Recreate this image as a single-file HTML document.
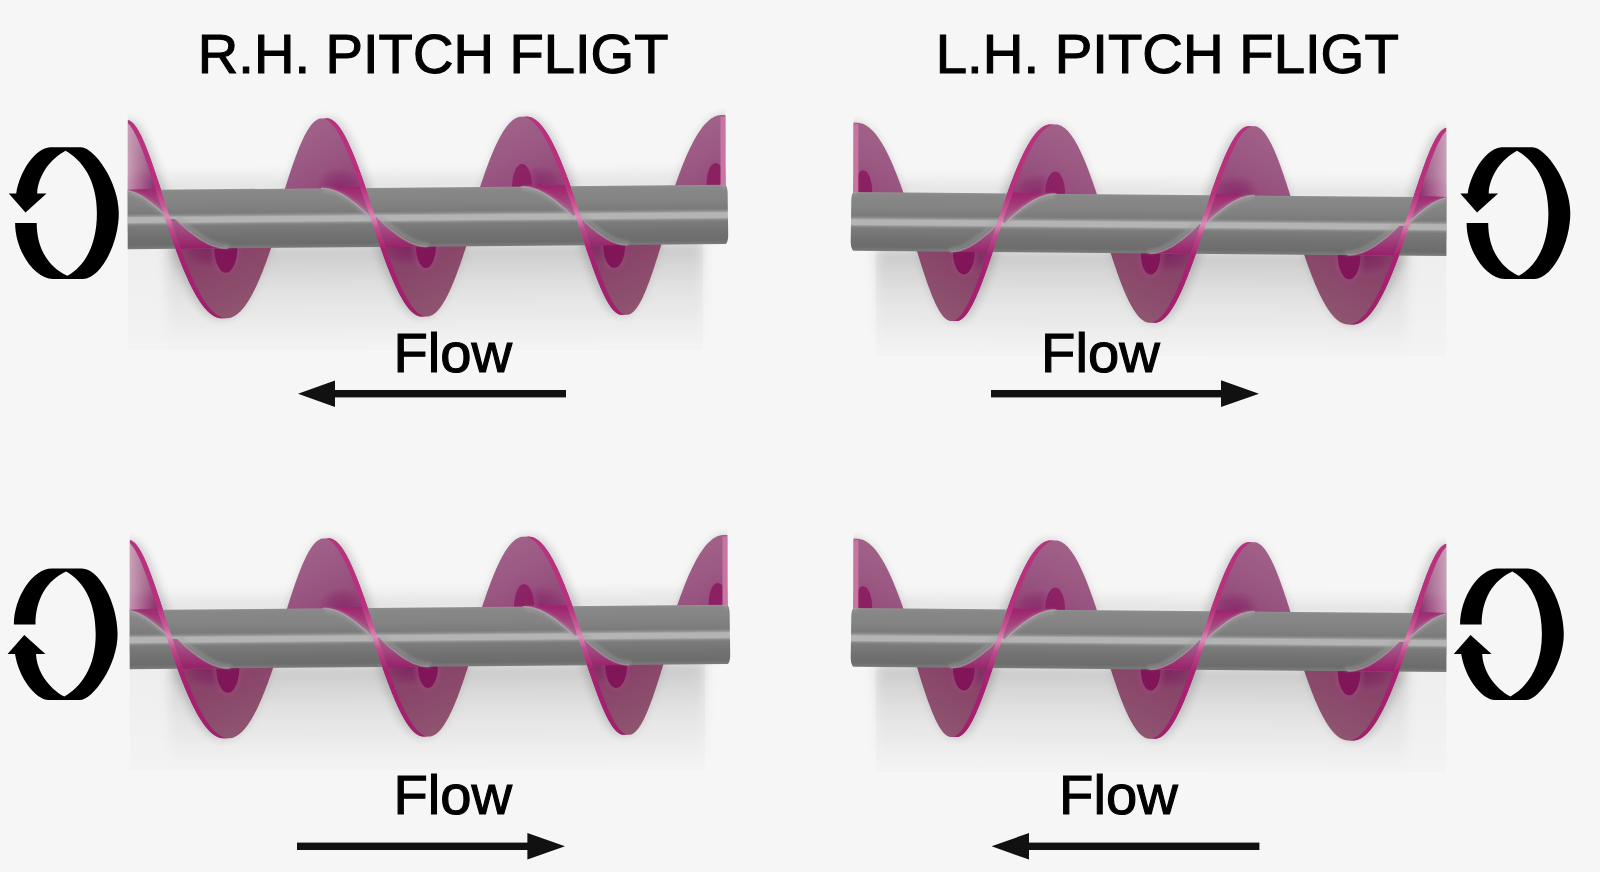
<!DOCTYPE html>
<html><head><meta charset="utf-8"><style>
html,body{margin:0;padding:0;background:#f6f6f6;}
svg{display:block;}
</style></head><body>
<svg width="1600" height="872" viewBox="0 0 1600 872">
<rect width="1600" height="872" fill="#f6f6f6"/>

<defs>
 <filter id="blur6" x="-20%" y="-50%" width="140%" height="200%"><feGaussianBlur stdDeviation="6"/></filter>
 <filter id="blur1" x="-50%" y="-50%" width="200%" height="200%"><feGaussianBlur stdDeviation="1.5"/></filter>
 <filter id="blur2" x="-50%" y="-50%" width="200%" height="200%"><feGaussianBlur stdDeviation="2.5"/></filter>
 <filter id="blur3" x="-10%" y="-30%" width="120%" height="160%"><feGaussianBlur stdDeviation="3"/></filter>
 <linearGradient id="shB" x1="0" y1="0" x2="0" y2="1">
  <stop offset="0" stop-color="#000" stop-opacity="0.17"/>
  <stop offset="0.15" stop-color="#000" stop-opacity="0.12"/>
  <stop offset="0.45" stop-color="#000" stop-opacity="0.06"/>
  <stop offset="1" stop-color="#000" stop-opacity="0"/>
 </linearGradient>
 <linearGradient id="panelB" x1="0" y1="0" x2="0" y2="1">
  <stop offset="0" stop-color="#000" stop-opacity="0.035"/>
  <stop offset="1" stop-color="#000" stop-opacity="0.012"/>
 </linearGradient>
 <linearGradient id="shA" x1="0" y1="0" x2="0" y2="1">
  <stop offset="0" stop-color="#000" stop-opacity="0"/>
  <stop offset="1" stop-color="#000" stop-opacity="0.09"/>
 </linearGradient>
 <filter id="blur05" x="-50%" y="-50%" width="200%" height="200%"><feGaussianBlur stdDeviation="0.7"/></filter>
 <filter id="blurS" x="-20%" y="-20%" width="140%" height="140%"><feGaussianBlur stdDeviation="5"/></filter>
 <linearGradient id="shaft" x1="0" y1="-29.6" x2="0" y2="29.6" gradientUnits="userSpaceOnUse">
  <stop offset="0" stop-color="#909090"/>
  <stop offset="0.04" stop-color="#888888"/>
  <stop offset="0.25" stop-color="#838383"/>
  <stop offset="0.40" stop-color="#7b7b7b"/>
  <stop offset="0.44" stop-color="#909090"/>
  <stop offset="0.47" stop-color="#b4b4b4"/>
  <stop offset="0.55" stop-color="#b4b4b4"/>
  <stop offset="0.585" stop-color="#8a8a8a"/>
  <stop offset="0.62" stop-color="#7b7b7b"/>
  <stop offset="0.80" stop-color="#717171"/>
  <stop offset="0.93" stop-color="#6c6c6c"/>
  <stop offset="1" stop-color="#7c7c7c"/>
 </linearGradient>
 <linearGradient id="lobeUp" x1="0.25" y1="0" x2="0.75" y2="1">
  <stop offset="0" stop-color="#a2648a"/>
  <stop offset="0.45" stop-color="#985480"/>
  <stop offset="0.8" stop-color="#903c74"/>
  <stop offset="1" stop-color="#8c2c6c"/>
 </linearGradient>
 <linearGradient id="lobeDn" x1="0.25" y1="0" x2="0.75" y2="1">
  <stop offset="0" stop-color="#842a62"/>
  <stop offset="0.3" stop-color="#884068"/>
  <stop offset="0.6" stop-color="#8a486a"/>
  <stop offset="1" stop-color="#905872"/>
 </linearGradient>
 <linearGradient id="wedgeUp" x1="0" y1="187.39827827117543" x2="0" y2="216.99827827117542" gradientUnits="userSpaceOnUse">
  <stop offset="0" stop-color="#a0246e"/>
  <stop offset="1" stop-color="#a86890"/>
 </linearGradient>
 <linearGradient id="wedgeDn" x1="0" y1="216.99827827117542" x2="0" y2="246.59827827117542" gradientUnits="userSpaceOnUse">
  <stop offset="0" stop-color="#a86890"/>
  <stop offset="1" stop-color="#98226a"/>
 </linearGradient>
 <linearGradient id="band" x1="0" y1="117.50829611564194" x2="0" y2="316.4882604267089" gradientUnits="userSpaceOnUse">
  <stop offset="0" stop-color="#b8327e"/>
  <stop offset="0.35" stop-color="#b8307e"/>
  <stop offset="0.45" stop-color="#cc5c98"/>
  <stop offset="0.5" stop-color="#dc8cb8"/>
  <stop offset="0.56" stop-color="#c04a8c"/>
  <stop offset="0.66" stop-color="#a82272"/>
  <stop offset="1" stop-color="#a0206c"/>
 </linearGradient>
 <linearGradient id="p0light" x1="127.7" y1="0" x2="153.7" y2="0" gradientUnits="userSpaceOnUse">
  <stop offset="0" stop-color="#e8d0dc" stop-opacity="0.6"/>
  <stop offset="0.5" stop-color="#e0c0d0" stop-opacity="0.35"/>
  <stop offset="1" stop-color="#e0c0d0" stop-opacity="0"/>
 </linearGradient>
 <path id="rot" d="M50,147.3 L81,147.3 C94,147.3 118.8,182 118.8,213.1 C118.8,245 100,278.9 83,278.9 L53,278.9 C34,278.9 15.1,250 15.1,222.9 L36.7,222.9 C36.7,248 48,267 67.4,275.8 C85,266 96.9,245 96.9,213.3 C97,180 82,160 65.5,150.8 C50,159 38,176 37.2,193.4 L46.6,193.4 L25.5,212.4 L8.8,193.4 L16.2,193.4 C20,170 36,148 50,147.3 Z"/>
 <clipPath id="scl"><rect x="127.7" y="0" width="604.3" height="440"/></clipPath>
 <clipPath id="bcl"><rect x="127.7" y="0" width="597.5999999999999" height="440"/></clipPath>
 <g id="screw" clip-path="url(#scl)">
<g clip-path="url(#bcl)">
<g fill="#505050" opacity="0.13" filter="url(#blurS)"><polygon points="77.05,232.08 77.94,229.31 78.82,226.53 79.70,223.75 80.57,220.96 81.44,218.17 82.29,215.39 83.15,212.60 83.99,209.82 84.82,207.05 85.65,204.29 86.48,201.55 87.30,198.81 88.11,196.10 88.91,193.40 89.71,190.72 90.50,188.06 91.29,185.43 92.07,182.82 92.84,180.24 93.61,177.70 94.38,175.18 95.14,172.70 95.89,170.25 96.64,167.85 97.38,165.48 98.12,163.16 98.86,160.88 99.59,158.64 100.32,156.45 101.04,154.31 101.76,152.23 102.47,150.19 103.18,148.21 103.89,146.28 104.60,144.42 105.30,142.61 106.00,140.86 106.70,139.17 107.39,137.55 108.09,135.99 108.78,134.49 109.47,133.07 110.15,131.71 110.84,130.42 111.52,129.21 112.21,128.06 112.89,126.99 113.57,126.00 114.26,125.07 114.94,124.23 115.62,123.46 116.30,122.77 116.98,122.15 117.67,121.62 118.35,121.16 119.03,120.79 119.72,120.49 120.40,120.28 121.09,120.15 126.06,120.10 126.75,120.05 127.45,120.08 128.14,120.20 128.84,120.39 129.54,120.67 130.25,121.03 130.96,121.47 131.67,121.99 132.38,122.59 133.10,123.28 133.81,124.04 134.54,124.89 135.27,125.81 136.00,126.81 136.73,127.90 137.47,129.05 138.21,130.29 138.96,131.60 139.71,132.99 140.47,134.45 141.23,135.98 142.00,137.59 142.77,139.26 143.55,141.00 144.33,142.81 145.12,144.69 145.91,146.63 146.71,148.64 147.51,150.70 148.32,152.83 149.14,155.01 149.96,157.25 150.79,159.54 151.62,161.88 152.46,164.28 153.30,166.72 154.15,169.21 155.01,171.74 155.87,174.32 156.74,176.93 157.62,179.58 158.50,182.27 159.39,184.99 160.28,187.74 161.18,190.51 162.08,193.32 162.99,196.14 163.91,198.99 164.84,201.85 165.76,204.73 166.70,207.62 167.64,210.52 168.59,213.43 169.54,216.34 170.50,219.26 171.46,222.18 172.43,225.09 173.40,228.00 174.38,230.90"/><polygon points="271.98,230.41 272.85,227.64 273.73,224.86 274.60,222.07 275.47,219.29 276.33,216.50 277.19,213.71 278.05,210.93 278.91,208.15 279.76,205.38 280.61,202.62 281.46,199.87 282.30,197.14 283.15,194.42 283.99,191.72 284.82,189.04 285.66,186.38 286.49,183.75 287.32,181.14 288.15,178.57 288.98,176.02 289.81,173.50 290.63,171.02 291.46,168.58 292.28,166.17 293.10,163.80 293.92,161.48 294.73,159.20 295.55,156.96 296.37,154.77 297.18,152.63 298.00,150.54 298.81,148.51 299.62,146.52 300.43,144.60 301.25,142.73 302.06,140.92 302.87,139.17 303.68,137.48 304.49,135.85 305.31,134.29 306.12,132.80 306.93,131.37 307.75,130.02 308.56,128.73 309.37,127.51 310.19,126.36 311.01,125.29 311.82,124.29 312.64,123.37 313.46,122.52 314.28,121.75 315.10,121.06 315.93,120.44 316.75,119.91 317.58,119.45 318.40,119.08 319.23,118.78 320.06,118.56 320.90,118.43 325.86,118.39 326.70,118.34 327.54,118.37 328.38,118.48 329.23,118.67 330.07,118.95 330.92,119.30 331.77,119.74 332.63,120.26 333.48,120.86 334.34,121.55 335.20,122.31 336.06,123.16 336.93,124.08 337.80,125.08 338.67,126.16 339.54,127.32 340.42,128.56 341.30,129.87 342.18,131.25 343.06,132.71 343.95,134.24 344.84,135.84 345.73,137.52 346.62,139.26 347.52,141.07 348.42,142.95 349.32,144.89 350.23,146.89 351.13,148.95 352.04,151.08 352.96,153.26 353.87,155.50 354.79,157.79 355.71,160.13 356.63,162.53 357.56,164.97 358.49,167.46 359.42,169.99 360.35,172.56 361.28,175.18 362.22,177.83 363.16,180.51 364.10,183.23 365.04,185.98 365.98,188.76 366.93,191.56 367.88,194.38 368.83,197.23 369.78,200.09 370.73,202.97 371.69,205.86 372.64,208.76 373.60,211.67 374.56,214.58 375.52,217.50 376.48,220.42 377.44,223.33 378.40,226.24 379.37,229.14"/><polygon points="466.91,228.74 467.77,225.97 468.63,223.19 469.50,220.40 470.36,217.61 471.22,214.83 472.09,212.04 472.96,209.26 473.83,206.48 474.70,203.71 475.57,200.95 476.44,198.20 477.31,195.47 478.19,192.75 479.06,190.05 479.94,187.37 480.82,184.71 481.70,182.08 482.58,179.47 483.47,176.89 484.35,174.34 485.24,171.83 486.13,169.34 487.02,166.90 487.92,164.49 488.81,162.12 489.71,159.80 490.61,157.51 491.51,155.28 492.42,153.09 493.32,150.95 494.23,148.86 495.15,146.82 496.06,144.84 496.98,142.91 497.90,141.04 498.82,139.23 499.74,137.48 500.67,135.79 501.60,134.16 502.53,132.60 503.46,131.11 504.40,129.68 505.34,128.32 506.28,127.03 507.22,125.81 508.17,124.66 509.12,123.59 510.07,122.59 511.03,121.67 511.98,120.82 512.94,120.05 513.90,119.35 514.87,118.74 515.84,118.20 516.80,117.74 517.78,117.36 518.75,117.07 519.72,116.85 520.70,116.72 525.67,116.67 526.65,116.62 527.64,116.65 528.62,116.76 529.61,116.95 530.60,117.22 531.60,117.58 532.59,118.02 533.59,118.54 534.59,119.14 535.59,119.82 536.59,120.58 537.59,121.43 538.60,122.35 539.60,123.35 540.61,124.43 541.62,125.59 542.62,126.82 543.63,128.13 544.64,129.51 545.65,130.97 546.66,132.50 547.68,134.10 548.69,135.78 549.70,137.52 550.71,139.33 551.72,141.20 552.73,143.14 553.75,145.14 554.76,147.21 555.77,149.33 556.78,151.51 557.79,153.75 558.80,156.04 559.80,158.38 560.81,160.77 561.81,163.22 562.82,165.70 563.82,168.23 564.82,170.81 565.82,173.42 566.82,176.07 567.81,178.76 568.81,181.47 569.80,184.22 570.79,187.00 571.78,189.80 572.76,192.62 573.74,195.47 574.72,198.33 575.70,201.21 576.67,204.10 577.64,207.00 578.61,209.91 579.58,212.82 580.54,215.74 581.50,218.66 582.45,221.57 583.40,224.48 584.35,227.38"/><polygon points="661.84,227.06 662.68,224.29 663.54,221.51 664.39,218.73 665.25,215.94 666.12,213.15 666.99,210.37 667.87,207.58 668.75,204.81 669.63,202.04 670.52,199.27 671.42,196.53 672.32,193.79 673.23,191.07 674.14,188.37 675.06,185.69 675.98,183.03 676.91,180.40 677.84,177.79 678.78,175.21 679.72,172.66 680.67,170.15 681.63,167.67 682.59,165.22 683.56,162.81 684.53,160.44 685.50,158.12 686.49,155.83 687.48,153.59 688.47,151.40 689.47,149.26 690.47,147.17 691.48,145.13 692.50,143.15 693.52,141.22 694.55,139.35 695.58,137.54 696.61,135.79 697.65,134.10 698.70,132.47 699.75,130.91 700.81,129.41 701.87,127.98 702.93,126.62 704.00,125.33 705.08,124.11 706.15,122.97 707.24,121.89 708.32,120.89 709.41,119.96 710.51,119.11 711.61,118.34 712.71,117.65 713.81,117.03 714.92,116.49 716.03,116.03 717.15,115.65 718.27,115.35 719.39,115.14 720.51,115.00 725.47,114.96 726.60,114.90 727.73,114.93 728.86,115.04 730.00,115.23 731.14,115.50 732.27,115.86 733.41,116.29 734.55,116.81 735.69,117.41 736.84,118.09 737.98,118.85 739.12,119.70 740.26,120.62 741.41,121.62 742.55,122.70 743.69,123.85 744.83,125.08 745.97,126.39 747.11,127.78 748.25,129.23 749.38,130.76 750.51,132.36 751.65,134.03 752.78,135.77 753.90,137.58 755.03,139.46 756.15,141.39 757.27,143.39 758.38,145.46 759.49,147.58 760.60,149.76 761.70,152.00 762.80,154.29 763.90,156.63 764.99,159.02 766.07,161.46 767.15,163.95 768.23,166.48 769.30,169.05 770.36,171.67 771.42,174.32 772.47,177.00 773.52,179.72 774.56,182.46 775.60,185.24 776.62,188.04 777.65,190.87 778.66,193.71 779.67,196.57 780.67,199.45 781.66,202.34 782.65,205.24 783.63,208.15 784.60,211.07 785.56,213.98 786.52,216.90 787.47,219.81 788.41,222.72 789.34,225.62"/><polygon points="161.26,206.58 162.19,209.48 163.14,212.38 164.09,215.30 165.04,218.21 166.00,221.13 166.97,224.04 167.94,226.95 168.92,229.86 169.90,232.75 170.89,235.64 171.88,238.50 172.88,241.35 173.88,244.19 174.89,246.99 175.90,249.78 176.92,252.54 177.94,255.26 178.96,257.96 179.99,260.62 181.03,263.25 182.06,265.83 183.10,268.38 184.15,270.88 185.19,273.34 186.24,275.75 187.29,278.11 188.35,280.42 189.41,282.67 190.47,284.87 191.53,287.01 192.60,289.10 193.67,291.12 194.74,293.08 195.81,294.97 196.88,296.80 197.95,298.57 199.03,300.26 200.10,301.89 201.18,303.44 202.26,304.92 203.34,306.33 204.41,307.67 205.49,308.93 206.57,310.11 207.65,311.21 208.73,312.24 209.81,313.19 210.88,314.06 211.96,314.84 213.04,315.55 214.11,316.18 215.18,316.73 216.26,317.19 217.33,317.57 218.40,317.87 219.46,318.09 220.53,318.23 221.59,318.29 222.65,318.26 227.62,318.22 228.67,318.11 229.73,317.92 230.78,317.65 231.83,317.30 232.87,316.86 233.91,316.35 234.95,315.76 235.99,315.09 237.02,314.35 238.06,313.52 239.08,312.62 240.11,311.65 241.13,310.60 242.15,309.48 243.16,308.28 244.17,307.01 245.18,305.68 246.18,304.27 247.18,302.80 248.18,301.26 249.17,299.65 250.16,297.99 251.15,296.25 252.13,294.46 253.10,292.61 254.08,290.70 255.05,288.74 256.01,286.72 256.97,284.65 257.93,282.52 258.88,280.35 259.83,278.13 260.78,275.86 261.72,273.55 262.66,271.19 263.59,268.80 264.52,266.36 265.45,263.89 266.37,261.39 267.29,258.85 268.20,256.28 269.11,253.68 270.02,251.06 270.92,248.41 271.82,245.74 272.72,243.04 273.61,240.33 274.50,237.60 275.39,234.86 276.27,232.10 277.15,229.33 278.02,226.56 278.90,223.77 279.77,220.99 280.63,218.20 281.50,215.41 282.36,212.63 283.21,209.85 284.07,207.07"/><polygon points="366.24,204.82 367.19,207.72 368.15,210.62 369.10,213.54 370.06,216.45 371.02,219.37 371.99,222.28 372.95,225.19 373.91,228.10 374.88,230.99 375.84,233.88 376.81,236.74 377.77,239.60 378.74,242.43 379.71,245.24 380.68,248.02 381.65,250.78 382.62,253.51 383.58,256.20 384.55,258.87 385.52,261.49 386.49,264.08 387.46,266.63 388.43,269.13 389.39,271.59 390.36,274.00 391.33,276.36 392.29,278.67 393.26,280.92 394.23,283.12 395.19,285.27 396.15,287.35 397.11,289.37 398.07,291.33 399.03,293.23 399.99,295.06 400.95,296.83 401.91,298.52 402.86,300.15 403.81,301.70 404.76,303.19 405.71,304.60 406.66,305.93 407.61,307.19 408.55,308.37 409.50,309.48 410.44,310.51 411.38,311.46 412.32,312.33 413.25,313.12 414.19,313.83 415.12,314.46 416.05,315.00 416.98,315.47 417.90,315.85 418.83,316.15 419.75,316.37 420.67,316.51 421.59,316.57 422.51,316.54 427.47,316.50 428.38,316.39 429.29,316.21 430.20,315.94 431.10,315.59 432.00,315.16 432.90,314.64 433.80,314.06 434.70,313.39 435.59,312.64 436.49,311.82 437.38,310.92 438.27,309.95 439.16,308.90 440.04,307.78 440.92,306.58 441.81,305.32 442.69,303.98 443.57,302.58 444.44,301.11 445.32,299.57 446.20,297.96 447.07,296.30 447.94,294.57 448.81,292.78 449.68,290.92 450.55,289.02 451.42,287.05 452.28,285.03 453.15,282.96 454.01,280.84 454.87,278.67 455.74,276.44 456.60,274.18 457.46,271.87 458.32,269.51 459.18,267.12 460.04,264.69 460.90,262.22 461.76,259.71 462.62,257.17 463.48,254.61 464.34,252.01 465.19,249.38 466.05,246.73 466.91,244.06 467.77,241.37 468.63,238.65 469.49,235.93 470.35,233.18 471.21,230.43 472.07,227.66 472.93,224.88 473.80,222.10 474.66,219.32 475.53,216.53 476.39,213.74 477.26,210.95 478.13,208.17 478.99,205.40"/><polygon points="571.22,203.06 572.19,205.96 573.16,208.86 574.12,211.78 575.09,214.69 576.05,217.61 577.00,220.52 577.96,223.44 578.91,226.34 579.85,229.23 580.79,232.12 581.73,234.99 582.67,237.84 583.60,240.67 584.53,243.48 585.45,246.26 586.38,249.02 587.29,251.75 588.21,254.45 589.11,257.11 590.02,259.74 590.92,262.33 591.82,264.87 592.71,267.38 593.60,269.83 594.48,272.24 595.36,274.61 596.24,276.92 597.11,279.17 597.98,281.37 598.85,283.52 599.71,285.60 600.56,287.63 601.41,289.59 602.26,291.49 603.11,293.32 603.95,295.08 604.78,296.78 605.62,298.41 606.45,299.96 607.27,301.45 608.09,302.86 608.91,304.20 609.73,305.46 610.54,306.64 611.35,307.75 612.15,308.78 612.95,309.73 613.75,310.60 614.55,311.39 615.34,312.10 616.13,312.73 616.92,313.28 617.70,313.75 618.48,314.13 619.26,314.43 620.04,314.66 620.82,314.80 621.59,314.85 622.36,314.83 627.33,314.79 628.09,314.68 628.85,314.49 629.62,314.22 630.38,313.88 631.14,313.45 631.90,312.94 632.65,312.35 633.41,311.68 634.16,310.94 634.92,310.12 635.67,309.22 636.43,308.25 637.18,307.20 637.94,306.08 638.69,304.89 639.44,303.62 640.20,302.29 640.95,300.88 641.71,299.41 642.46,297.88 643.22,296.27 643.98,294.61 644.74,292.88 645.50,291.09 646.26,289.24 647.02,287.33 647.79,285.37 648.55,283.35 649.32,281.28 650.09,279.16 650.87,276.98 651.64,274.76 652.42,272.50 653.20,270.19 653.99,267.83 654.77,265.44 655.56,263.01 656.35,260.54 657.15,258.03 657.95,255.50 658.75,252.93 659.56,250.33 660.37,247.71 661.18,245.06 662.00,242.39 662.82,239.69 663.65,236.98 664.48,234.25 665.31,231.51 666.15,228.75 667.00,225.99 667.85,223.21 668.70,220.43 669.56,217.64 670.42,214.86 671.29,212.07 672.16,209.28 673.04,206.50 673.92,203.72"/></g>
<g fill="#404040" opacity="0.16" filter="url(#blurS)" transform="translate(5,1)"><polygon points="77.05,232.08 77.94,229.31 78.82,226.53 79.70,223.75 80.57,220.96 81.44,218.17 82.29,215.39 83.15,212.60 83.99,209.82 84.82,207.05 85.65,204.29 86.48,201.55 87.30,198.81 88.11,196.10 88.91,193.40 89.71,190.72 90.50,188.06 91.29,185.43 92.07,182.82 92.84,180.24 93.61,177.70 94.38,175.18 95.14,172.70 95.89,170.25 96.64,167.85 97.38,165.48 98.12,163.16 98.86,160.88 99.59,158.64 100.32,156.45 101.04,154.31 101.76,152.23 102.47,150.19 103.18,148.21 103.89,146.28 104.60,144.42 105.30,142.61 106.00,140.86 106.70,139.17 107.39,137.55 108.09,135.99 108.78,134.49 109.47,133.07 110.15,131.71 110.84,130.42 111.52,129.21 112.21,128.06 112.89,126.99 113.57,126.00 114.26,125.07 114.94,124.23 115.62,123.46 116.30,122.77 116.98,122.15 117.67,121.62 118.35,121.16 119.03,120.79 119.72,120.49 120.40,120.28 121.09,120.15 126.06,120.10 126.75,120.05 127.45,120.08 128.14,120.20 128.84,120.39 129.54,120.67 130.25,121.03 130.96,121.47 131.67,121.99 132.38,122.59 133.10,123.28 133.81,124.04 134.54,124.89 135.27,125.81 136.00,126.81 136.73,127.90 137.47,129.05 138.21,130.29 138.96,131.60 139.71,132.99 140.47,134.45 141.23,135.98 142.00,137.59 142.77,139.26 143.55,141.00 144.33,142.81 145.12,144.69 145.91,146.63 146.71,148.64 147.51,150.70 148.32,152.83 149.14,155.01 149.96,157.25 150.79,159.54 151.62,161.88 152.46,164.28 153.30,166.72 154.15,169.21 155.01,171.74 155.87,174.32 156.74,176.93 157.62,179.58 158.50,182.27 159.39,184.99 160.28,187.74 161.18,190.51 162.08,193.32 162.99,196.14 163.91,198.99 164.84,201.85 165.76,204.73 166.70,207.62 167.64,210.52 168.59,213.43 169.54,216.34 170.50,219.26 171.46,222.18 172.43,225.09 173.40,228.00 174.38,230.90"/><polygon points="271.98,230.41 272.85,227.64 273.73,224.86 274.60,222.07 275.47,219.29 276.33,216.50 277.19,213.71 278.05,210.93 278.91,208.15 279.76,205.38 280.61,202.62 281.46,199.87 282.30,197.14 283.15,194.42 283.99,191.72 284.82,189.04 285.66,186.38 286.49,183.75 287.32,181.14 288.15,178.57 288.98,176.02 289.81,173.50 290.63,171.02 291.46,168.58 292.28,166.17 293.10,163.80 293.92,161.48 294.73,159.20 295.55,156.96 296.37,154.77 297.18,152.63 298.00,150.54 298.81,148.51 299.62,146.52 300.43,144.60 301.25,142.73 302.06,140.92 302.87,139.17 303.68,137.48 304.49,135.85 305.31,134.29 306.12,132.80 306.93,131.37 307.75,130.02 308.56,128.73 309.37,127.51 310.19,126.36 311.01,125.29 311.82,124.29 312.64,123.37 313.46,122.52 314.28,121.75 315.10,121.06 315.93,120.44 316.75,119.91 317.58,119.45 318.40,119.08 319.23,118.78 320.06,118.56 320.90,118.43 325.86,118.39 326.70,118.34 327.54,118.37 328.38,118.48 329.23,118.67 330.07,118.95 330.92,119.30 331.77,119.74 332.63,120.26 333.48,120.86 334.34,121.55 335.20,122.31 336.06,123.16 336.93,124.08 337.80,125.08 338.67,126.16 339.54,127.32 340.42,128.56 341.30,129.87 342.18,131.25 343.06,132.71 343.95,134.24 344.84,135.84 345.73,137.52 346.62,139.26 347.52,141.07 348.42,142.95 349.32,144.89 350.23,146.89 351.13,148.95 352.04,151.08 352.96,153.26 353.87,155.50 354.79,157.79 355.71,160.13 356.63,162.53 357.56,164.97 358.49,167.46 359.42,169.99 360.35,172.56 361.28,175.18 362.22,177.83 363.16,180.51 364.10,183.23 365.04,185.98 365.98,188.76 366.93,191.56 367.88,194.38 368.83,197.23 369.78,200.09 370.73,202.97 371.69,205.86 372.64,208.76 373.60,211.67 374.56,214.58 375.52,217.50 376.48,220.42 377.44,223.33 378.40,226.24 379.37,229.14"/><polygon points="466.91,228.74 467.77,225.97 468.63,223.19 469.50,220.40 470.36,217.61 471.22,214.83 472.09,212.04 472.96,209.26 473.83,206.48 474.70,203.71 475.57,200.95 476.44,198.20 477.31,195.47 478.19,192.75 479.06,190.05 479.94,187.37 480.82,184.71 481.70,182.08 482.58,179.47 483.47,176.89 484.35,174.34 485.24,171.83 486.13,169.34 487.02,166.90 487.92,164.49 488.81,162.12 489.71,159.80 490.61,157.51 491.51,155.28 492.42,153.09 493.32,150.95 494.23,148.86 495.15,146.82 496.06,144.84 496.98,142.91 497.90,141.04 498.82,139.23 499.74,137.48 500.67,135.79 501.60,134.16 502.53,132.60 503.46,131.11 504.40,129.68 505.34,128.32 506.28,127.03 507.22,125.81 508.17,124.66 509.12,123.59 510.07,122.59 511.03,121.67 511.98,120.82 512.94,120.05 513.90,119.35 514.87,118.74 515.84,118.20 516.80,117.74 517.78,117.36 518.75,117.07 519.72,116.85 520.70,116.72 525.67,116.67 526.65,116.62 527.64,116.65 528.62,116.76 529.61,116.95 530.60,117.22 531.60,117.58 532.59,118.02 533.59,118.54 534.59,119.14 535.59,119.82 536.59,120.58 537.59,121.43 538.60,122.35 539.60,123.35 540.61,124.43 541.62,125.59 542.62,126.82 543.63,128.13 544.64,129.51 545.65,130.97 546.66,132.50 547.68,134.10 548.69,135.78 549.70,137.52 550.71,139.33 551.72,141.20 552.73,143.14 553.75,145.14 554.76,147.21 555.77,149.33 556.78,151.51 557.79,153.75 558.80,156.04 559.80,158.38 560.81,160.77 561.81,163.22 562.82,165.70 563.82,168.23 564.82,170.81 565.82,173.42 566.82,176.07 567.81,178.76 568.81,181.47 569.80,184.22 570.79,187.00 571.78,189.80 572.76,192.62 573.74,195.47 574.72,198.33 575.70,201.21 576.67,204.10 577.64,207.00 578.61,209.91 579.58,212.82 580.54,215.74 581.50,218.66 582.45,221.57 583.40,224.48 584.35,227.38"/><polygon points="661.84,227.06 662.68,224.29 663.54,221.51 664.39,218.73 665.25,215.94 666.12,213.15 666.99,210.37 667.87,207.58 668.75,204.81 669.63,202.04 670.52,199.27 671.42,196.53 672.32,193.79 673.23,191.07 674.14,188.37 675.06,185.69 675.98,183.03 676.91,180.40 677.84,177.79 678.78,175.21 679.72,172.66 680.67,170.15 681.63,167.67 682.59,165.22 683.56,162.81 684.53,160.44 685.50,158.12 686.49,155.83 687.48,153.59 688.47,151.40 689.47,149.26 690.47,147.17 691.48,145.13 692.50,143.15 693.52,141.22 694.55,139.35 695.58,137.54 696.61,135.79 697.65,134.10 698.70,132.47 699.75,130.91 700.81,129.41 701.87,127.98 702.93,126.62 704.00,125.33 705.08,124.11 706.15,122.97 707.24,121.89 708.32,120.89 709.41,119.96 710.51,119.11 711.61,118.34 712.71,117.65 713.81,117.03 714.92,116.49 716.03,116.03 717.15,115.65 718.27,115.35 719.39,115.14 720.51,115.00 725.47,114.96 726.60,114.90 727.73,114.93 728.86,115.04 730.00,115.23 731.14,115.50 732.27,115.86 733.41,116.29 734.55,116.81 735.69,117.41 736.84,118.09 737.98,118.85 739.12,119.70 740.26,120.62 741.41,121.62 742.55,122.70 743.69,123.85 744.83,125.08 745.97,126.39 747.11,127.78 748.25,129.23 749.38,130.76 750.51,132.36 751.65,134.03 752.78,135.77 753.90,137.58 755.03,139.46 756.15,141.39 757.27,143.39 758.38,145.46 759.49,147.58 760.60,149.76 761.70,152.00 762.80,154.29 763.90,156.63 764.99,159.02 766.07,161.46 767.15,163.95 768.23,166.48 769.30,169.05 770.36,171.67 771.42,174.32 772.47,177.00 773.52,179.72 774.56,182.46 775.60,185.24 776.62,188.04 777.65,190.87 778.66,193.71 779.67,196.57 780.67,199.45 781.66,202.34 782.65,205.24 783.63,208.15 784.60,211.07 785.56,213.98 786.52,216.90 787.47,219.81 788.41,222.72 789.34,225.62"/></g>
<g fill="#404040" opacity="0.16" filter="url(#blurS)" transform="translate(-5,-1)"><polygon points="161.26,206.58 162.19,209.48 163.14,212.38 164.09,215.30 165.04,218.21 166.00,221.13 166.97,224.04 167.94,226.95 168.92,229.86 169.90,232.75 170.89,235.64 171.88,238.50 172.88,241.35 173.88,244.19 174.89,246.99 175.90,249.78 176.92,252.54 177.94,255.26 178.96,257.96 179.99,260.62 181.03,263.25 182.06,265.83 183.10,268.38 184.15,270.88 185.19,273.34 186.24,275.75 187.29,278.11 188.35,280.42 189.41,282.67 190.47,284.87 191.53,287.01 192.60,289.10 193.67,291.12 194.74,293.08 195.81,294.97 196.88,296.80 197.95,298.57 199.03,300.26 200.10,301.89 201.18,303.44 202.26,304.92 203.34,306.33 204.41,307.67 205.49,308.93 206.57,310.11 207.65,311.21 208.73,312.24 209.81,313.19 210.88,314.06 211.96,314.84 213.04,315.55 214.11,316.18 215.18,316.73 216.26,317.19 217.33,317.57 218.40,317.87 219.46,318.09 220.53,318.23 221.59,318.29 222.65,318.26 227.62,318.22 228.67,318.11 229.73,317.92 230.78,317.65 231.83,317.30 232.87,316.86 233.91,316.35 234.95,315.76 235.99,315.09 237.02,314.35 238.06,313.52 239.08,312.62 240.11,311.65 241.13,310.60 242.15,309.48 243.16,308.28 244.17,307.01 245.18,305.68 246.18,304.27 247.18,302.80 248.18,301.26 249.17,299.65 250.16,297.99 251.15,296.25 252.13,294.46 253.10,292.61 254.08,290.70 255.05,288.74 256.01,286.72 256.97,284.65 257.93,282.52 258.88,280.35 259.83,278.13 260.78,275.86 261.72,273.55 262.66,271.19 263.59,268.80 264.52,266.36 265.45,263.89 266.37,261.39 267.29,258.85 268.20,256.28 269.11,253.68 270.02,251.06 270.92,248.41 271.82,245.74 272.72,243.04 273.61,240.33 274.50,237.60 275.39,234.86 276.27,232.10 277.15,229.33 278.02,226.56 278.90,223.77 279.77,220.99 280.63,218.20 281.50,215.41 282.36,212.63 283.21,209.85 284.07,207.07"/><polygon points="366.24,204.82 367.19,207.72 368.15,210.62 369.10,213.54 370.06,216.45 371.02,219.37 371.99,222.28 372.95,225.19 373.91,228.10 374.88,230.99 375.84,233.88 376.81,236.74 377.77,239.60 378.74,242.43 379.71,245.24 380.68,248.02 381.65,250.78 382.62,253.51 383.58,256.20 384.55,258.87 385.52,261.49 386.49,264.08 387.46,266.63 388.43,269.13 389.39,271.59 390.36,274.00 391.33,276.36 392.29,278.67 393.26,280.92 394.23,283.12 395.19,285.27 396.15,287.35 397.11,289.37 398.07,291.33 399.03,293.23 399.99,295.06 400.95,296.83 401.91,298.52 402.86,300.15 403.81,301.70 404.76,303.19 405.71,304.60 406.66,305.93 407.61,307.19 408.55,308.37 409.50,309.48 410.44,310.51 411.38,311.46 412.32,312.33 413.25,313.12 414.19,313.83 415.12,314.46 416.05,315.00 416.98,315.47 417.90,315.85 418.83,316.15 419.75,316.37 420.67,316.51 421.59,316.57 422.51,316.54 427.47,316.50 428.38,316.39 429.29,316.21 430.20,315.94 431.10,315.59 432.00,315.16 432.90,314.64 433.80,314.06 434.70,313.39 435.59,312.64 436.49,311.82 437.38,310.92 438.27,309.95 439.16,308.90 440.04,307.78 440.92,306.58 441.81,305.32 442.69,303.98 443.57,302.58 444.44,301.11 445.32,299.57 446.20,297.96 447.07,296.30 447.94,294.57 448.81,292.78 449.68,290.92 450.55,289.02 451.42,287.05 452.28,285.03 453.15,282.96 454.01,280.84 454.87,278.67 455.74,276.44 456.60,274.18 457.46,271.87 458.32,269.51 459.18,267.12 460.04,264.69 460.90,262.22 461.76,259.71 462.62,257.17 463.48,254.61 464.34,252.01 465.19,249.38 466.05,246.73 466.91,244.06 467.77,241.37 468.63,238.65 469.49,235.93 470.35,233.18 471.21,230.43 472.07,227.66 472.93,224.88 473.80,222.10 474.66,219.32 475.53,216.53 476.39,213.74 477.26,210.95 478.13,208.17 478.99,205.40"/><polygon points="571.22,203.06 572.19,205.96 573.16,208.86 574.12,211.78 575.09,214.69 576.05,217.61 577.00,220.52 577.96,223.44 578.91,226.34 579.85,229.23 580.79,232.12 581.73,234.99 582.67,237.84 583.60,240.67 584.53,243.48 585.45,246.26 586.38,249.02 587.29,251.75 588.21,254.45 589.11,257.11 590.02,259.74 590.92,262.33 591.82,264.87 592.71,267.38 593.60,269.83 594.48,272.24 595.36,274.61 596.24,276.92 597.11,279.17 597.98,281.37 598.85,283.52 599.71,285.60 600.56,287.63 601.41,289.59 602.26,291.49 603.11,293.32 603.95,295.08 604.78,296.78 605.62,298.41 606.45,299.96 607.27,301.45 608.09,302.86 608.91,304.20 609.73,305.46 610.54,306.64 611.35,307.75 612.15,308.78 612.95,309.73 613.75,310.60 614.55,311.39 615.34,312.10 616.13,312.73 616.92,313.28 617.70,313.75 618.48,314.13 619.26,314.43 620.04,314.66 620.82,314.80 621.59,314.85 622.36,314.83 627.33,314.79 628.09,314.68 628.85,314.49 629.62,314.22 630.38,313.88 631.14,313.45 631.90,312.94 632.65,312.35 633.41,311.68 634.16,310.94 634.92,310.12 635.67,309.22 636.43,308.25 637.18,307.20 637.94,306.08 638.69,304.89 639.44,303.62 640.20,302.29 640.95,300.88 641.71,299.41 642.46,297.88 643.22,296.27 643.98,294.61 644.74,292.88 645.50,291.09 646.26,289.24 647.02,287.33 647.79,285.37 648.55,283.35 649.32,281.28 650.09,279.16 650.87,276.98 651.64,274.76 652.42,272.50 653.20,270.19 653.99,267.83 654.77,265.44 655.56,263.01 656.35,260.54 657.15,258.03 657.95,255.50 658.75,252.93 659.56,250.33 660.37,247.71 661.18,245.06 662.00,242.39 662.82,239.69 663.65,236.98 664.48,234.25 665.31,231.51 666.15,228.75 667.00,225.99 667.85,223.21 668.70,220.43 669.56,217.64 670.42,214.86 671.29,212.07 672.16,209.28 673.04,206.50 673.92,203.72"/></g>
</g>
<rect x="127.7" y="240" width="575.3" height="110" fill="url(#panelB)"/>
<g transform="translate(126.95,219.58) rotate(-0.4918)"><rect x="40" y="27.6" width="535.3" height="100" fill="url(#shB)" filter="url(#blur6)"/><rect x="6" y="-51.6" width="589.3" height="24" fill="url(#shA)" filter="url(#blur3)"/></g>
<g clip-path="url(#bcl)">
<polygon points="77.05,232.08 77.94,229.31 78.82,226.53 79.70,223.75 80.57,220.96 81.44,218.17 82.29,215.39 83.15,212.60 83.99,209.82 84.82,207.05 85.65,204.29 86.48,201.55 87.30,198.81 88.11,196.10 88.91,193.40 89.71,190.72 90.50,188.06 91.29,185.43 92.07,182.82 92.84,180.24 93.61,177.70 94.38,175.18 95.14,172.70 95.89,170.25 96.64,167.85 97.38,165.48 98.12,163.16 98.86,160.88 99.59,158.64 100.32,156.45 101.04,154.31 101.76,152.23 102.47,150.19 103.18,148.21 103.89,146.28 104.60,144.42 105.30,142.61 106.00,140.86 106.70,139.17 107.39,137.55 108.09,135.99 108.78,134.49 109.47,133.07 110.15,131.71 110.84,130.42 111.52,129.21 112.21,128.06 112.89,126.99 113.57,126.00 114.26,125.07 114.94,124.23 115.62,123.46 116.30,122.77 116.98,122.15 117.67,121.62 118.35,121.16 119.03,120.79 119.72,120.49 120.40,120.28 121.09,120.15 126.06,120.10 126.75,120.05 127.45,120.08 128.14,120.20 128.84,120.39 129.54,120.67 130.25,121.03 130.96,121.47 131.67,121.99 132.38,122.59 133.10,123.28 133.81,124.04 134.54,124.89 135.27,125.81 136.00,126.81 136.73,127.90 137.47,129.05 138.21,130.29 138.96,131.60 139.71,132.99 140.47,134.45 141.23,135.98 142.00,137.59 142.77,139.26 143.55,141.00 144.33,142.81 145.12,144.69 145.91,146.63 146.71,148.64 147.51,150.70 148.32,152.83 149.14,155.01 149.96,157.25 150.79,159.54 151.62,161.88 152.46,164.28 153.30,166.72 154.15,169.21 155.01,171.74 155.87,174.32 156.74,176.93 157.62,179.58 158.50,182.27 159.39,184.99 160.28,187.74 161.18,190.51 162.08,193.32 162.99,196.14 163.91,198.99 164.84,201.85 165.76,204.73 166.70,207.62 167.64,210.52 168.59,213.43 169.54,216.34 170.50,219.26 171.46,222.18 172.43,225.09 173.40,228.00 174.38,230.90" fill="url(#lobeUp)"/>
<radialGradient id="dku0" cx="0" cy="0" r="1" gradientUnits="userSpaceOnUse" gradientTransform="translate(140.1,189.0) scale(24,20)"><stop offset="0" stop-color="#842064" stop-opacity="0.65"/><stop offset="0.55" stop-color="#842064" stop-opacity="0.39"/><stop offset="1" stop-color="#842064" stop-opacity="0"/></radialGradient>
<polygon points="77.05,232.08 77.94,229.31 78.82,226.53 79.70,223.75 80.57,220.96 81.44,218.17 82.29,215.39 83.15,212.60 83.99,209.82 84.82,207.05 85.65,204.29 86.48,201.55 87.30,198.81 88.11,196.10 88.91,193.40 89.71,190.72 90.50,188.06 91.29,185.43 92.07,182.82 92.84,180.24 93.61,177.70 94.38,175.18 95.14,172.70 95.89,170.25 96.64,167.85 97.38,165.48 98.12,163.16 98.86,160.88 99.59,158.64 100.32,156.45 101.04,154.31 101.76,152.23 102.47,150.19 103.18,148.21 103.89,146.28 104.60,144.42 105.30,142.61 106.00,140.86 106.70,139.17 107.39,137.55 108.09,135.99 108.78,134.49 109.47,133.07 110.15,131.71 110.84,130.42 111.52,129.21 112.21,128.06 112.89,126.99 113.57,126.00 114.26,125.07 114.94,124.23 115.62,123.46 116.30,122.77 116.98,122.15 117.67,121.62 118.35,121.16 119.03,120.79 119.72,120.49 120.40,120.28 121.09,120.15 126.06,120.10 126.75,120.05 127.45,120.08 128.14,120.20 128.84,120.39 129.54,120.67 130.25,121.03 130.96,121.47 131.67,121.99 132.38,122.59 133.10,123.28 133.81,124.04 134.54,124.89 135.27,125.81 136.00,126.81 136.73,127.90 137.47,129.05 138.21,130.29 138.96,131.60 139.71,132.99 140.47,134.45 141.23,135.98 142.00,137.59 142.77,139.26 143.55,141.00 144.33,142.81 145.12,144.69 145.91,146.63 146.71,148.64 147.51,150.70 148.32,152.83 149.14,155.01 149.96,157.25 150.79,159.54 151.62,161.88 152.46,164.28 153.30,166.72 154.15,169.21 155.01,171.74 155.87,174.32 156.74,176.93 157.62,179.58 158.50,182.27 159.39,184.99 160.28,187.74 161.18,190.51 162.08,193.32 162.99,196.14 163.91,198.99 164.84,201.85 165.76,204.73 166.70,207.62 167.64,210.52 168.59,213.43 169.54,216.34 170.50,219.26 171.46,222.18 172.43,225.09 173.40,228.00 174.38,230.90" fill="url(#dku0)"/>
<polygon points="77.05,232.08 77.94,229.31 78.82,226.53 79.70,223.75 80.57,220.96 81.44,218.17 82.29,215.39 83.15,212.60 83.99,209.82 84.82,207.05 85.65,204.29 86.48,201.55 87.30,198.81 88.11,196.10 88.91,193.40 89.71,190.72 90.50,188.06 91.29,185.43 92.07,182.82 92.84,180.24 93.61,177.70 94.38,175.18 95.14,172.70 95.89,170.25 96.64,167.85 97.38,165.48 98.12,163.16 98.86,160.88 99.59,158.64 100.32,156.45 101.04,154.31 101.76,152.23 102.47,150.19 103.18,148.21 103.89,146.28 104.60,144.42 105.30,142.61 106.00,140.86 106.70,139.17 107.39,137.55 108.09,135.99 108.78,134.49 109.47,133.07 110.15,131.71 110.84,130.42 111.52,129.21 112.21,128.06 112.89,126.99 113.57,126.00 114.26,125.07 114.94,124.23 115.62,123.46 116.30,122.77 116.98,122.15 117.67,121.62 118.35,121.16 119.03,120.79 119.72,120.49 120.40,120.28 121.09,120.15 126.06,120.10 126.75,120.05 127.45,120.08 128.14,120.20 128.84,120.39 129.54,120.67 130.25,121.03 130.96,121.47 131.67,121.99 132.38,122.59 133.10,123.28 133.81,124.04 134.54,124.89 135.27,125.81 136.00,126.81 136.73,127.90 137.47,129.05 138.21,130.29 138.96,131.60 139.71,132.99 140.47,134.45 141.23,135.98 142.00,137.59 142.77,139.26 143.55,141.00 144.33,142.81 145.12,144.69 145.91,146.63 146.71,148.64 147.51,150.70 148.32,152.83 149.14,155.01 149.96,157.25 150.79,159.54 151.62,161.88 152.46,164.28 153.30,166.72 154.15,169.21 155.01,171.74 155.87,174.32 156.74,176.93 157.62,179.58 158.50,182.27 159.39,184.99 160.28,187.74 161.18,190.51 162.08,193.32 162.99,196.14 163.91,198.99 164.84,201.85 165.76,204.73 166.70,207.62 167.64,210.52 168.59,213.43 169.54,216.34 170.50,219.26 171.46,222.18 172.43,225.09 173.40,228.00 174.38,230.90" fill="url(#p0light)"/>
<polygon points="161.26,206.58 162.19,209.48 163.14,212.38 164.09,215.30 165.04,218.21 166.00,221.13 166.97,224.04 167.94,226.95 168.92,229.86 169.90,232.75 170.89,235.64 171.88,238.50 172.88,241.35 173.88,244.19 174.89,246.99 175.90,249.78 176.92,252.54 177.94,255.26 178.96,257.96 179.99,260.62 181.03,263.25 182.06,265.83 183.10,268.38 184.15,270.88 185.19,273.34 186.24,275.75 187.29,278.11 188.35,280.42 189.41,282.67 190.47,284.87 191.53,287.01 192.60,289.10 193.67,291.12 194.74,293.08 195.81,294.97 196.88,296.80 197.95,298.57 199.03,300.26 200.10,301.89 201.18,303.44 202.26,304.92 203.34,306.33 204.41,307.67 205.49,308.93 206.57,310.11 207.65,311.21 208.73,312.24 209.81,313.19 210.88,314.06 211.96,314.84 213.04,315.55 214.11,316.18 215.18,316.73 216.26,317.19 217.33,317.57 218.40,317.87 219.46,318.09 220.53,318.23 221.59,318.29 222.65,318.26 227.62,318.22 228.67,318.11 229.73,317.92 230.78,317.65 231.83,317.30 232.87,316.86 233.91,316.35 234.95,315.76 235.99,315.09 237.02,314.35 238.06,313.52 239.08,312.62 240.11,311.65 241.13,310.60 242.15,309.48 243.16,308.28 244.17,307.01 245.18,305.68 246.18,304.27 247.18,302.80 248.18,301.26 249.17,299.65 250.16,297.99 251.15,296.25 252.13,294.46 253.10,292.61 254.08,290.70 255.05,288.74 256.01,286.72 256.97,284.65 257.93,282.52 258.88,280.35 259.83,278.13 260.78,275.86 261.72,273.55 262.66,271.19 263.59,268.80 264.52,266.36 265.45,263.89 266.37,261.39 267.29,258.85 268.20,256.28 269.11,253.68 270.02,251.06 270.92,248.41 271.82,245.74 272.72,243.04 273.61,240.33 274.50,237.60 275.39,234.86 276.27,232.10 277.15,229.33 278.02,226.56 278.90,223.77 279.77,220.99 280.63,218.20 281.50,215.41 282.36,212.63 283.21,209.85 284.07,207.07" fill="url(#lobeDn)"/>
<radialGradient id="dkl0" cx="0" cy="0" r="1" gradientUnits="userSpaceOnUse" gradientTransform="translate(207.6,249.3) scale(26,19)"><stop offset="0" stop-color="#7c2260" stop-opacity="0.8"/><stop offset="0.55" stop-color="#7c2260" stop-opacity="0.48"/><stop offset="1" stop-color="#7c2260" stop-opacity="0"/></radialGradient>
<polygon points="161.26,206.58 162.19,209.48 163.14,212.38 164.09,215.30 165.04,218.21 166.00,221.13 166.97,224.04 167.94,226.95 168.92,229.86 169.90,232.75 170.89,235.64 171.88,238.50 172.88,241.35 173.88,244.19 174.89,246.99 175.90,249.78 176.92,252.54 177.94,255.26 178.96,257.96 179.99,260.62 181.03,263.25 182.06,265.83 183.10,268.38 184.15,270.88 185.19,273.34 186.24,275.75 187.29,278.11 188.35,280.42 189.41,282.67 190.47,284.87 191.53,287.01 192.60,289.10 193.67,291.12 194.74,293.08 195.81,294.97 196.88,296.80 197.95,298.57 199.03,300.26 200.10,301.89 201.18,303.44 202.26,304.92 203.34,306.33 204.41,307.67 205.49,308.93 206.57,310.11 207.65,311.21 208.73,312.24 209.81,313.19 210.88,314.06 211.96,314.84 213.04,315.55 214.11,316.18 215.18,316.73 216.26,317.19 217.33,317.57 218.40,317.87 219.46,318.09 220.53,318.23 221.59,318.29 222.65,318.26 227.62,318.22 228.67,318.11 229.73,317.92 230.78,317.65 231.83,317.30 232.87,316.86 233.91,316.35 234.95,315.76 235.99,315.09 237.02,314.35 238.06,313.52 239.08,312.62 240.11,311.65 241.13,310.60 242.15,309.48 243.16,308.28 244.17,307.01 245.18,305.68 246.18,304.27 247.18,302.80 248.18,301.26 249.17,299.65 250.16,297.99 251.15,296.25 252.13,294.46 253.10,292.61 254.08,290.70 255.05,288.74 256.01,286.72 256.97,284.65 257.93,282.52 258.88,280.35 259.83,278.13 260.78,275.86 261.72,273.55 262.66,271.19 263.59,268.80 264.52,266.36 265.45,263.89 266.37,261.39 267.29,258.85 268.20,256.28 269.11,253.68 270.02,251.06 270.92,248.41 271.82,245.74 272.72,243.04 273.61,240.33 274.50,237.60 275.39,234.86 276.27,232.10 277.15,229.33 278.02,226.56 278.90,223.77 279.77,220.99 280.63,218.20 281.50,215.41 282.36,212.63 283.21,209.85 284.07,207.07" fill="url(#dkl0)"/>
<ellipse cx="225.8" cy="248.3" rx="14.0" ry="27.0" fill="#9c4c7e" opacity="0.60" filter="url(#blur2)"/>
<ellipse cx="225.8" cy="248.3" rx="11.5" ry="24.5" fill="#801858" opacity="1.0" filter="url(#blur05)"/>
<polygon points="271.98,230.41 272.85,227.64 273.73,224.86 274.60,222.07 275.47,219.29 276.33,216.50 277.19,213.71 278.05,210.93 278.91,208.15 279.76,205.38 280.61,202.62 281.46,199.87 282.30,197.14 283.15,194.42 283.99,191.72 284.82,189.04 285.66,186.38 286.49,183.75 287.32,181.14 288.15,178.57 288.98,176.02 289.81,173.50 290.63,171.02 291.46,168.58 292.28,166.17 293.10,163.80 293.92,161.48 294.73,159.20 295.55,156.96 296.37,154.77 297.18,152.63 298.00,150.54 298.81,148.51 299.62,146.52 300.43,144.60 301.25,142.73 302.06,140.92 302.87,139.17 303.68,137.48 304.49,135.85 305.31,134.29 306.12,132.80 306.93,131.37 307.75,130.02 308.56,128.73 309.37,127.51 310.19,126.36 311.01,125.29 311.82,124.29 312.64,123.37 313.46,122.52 314.28,121.75 315.10,121.06 315.93,120.44 316.75,119.91 317.58,119.45 318.40,119.08 319.23,118.78 320.06,118.56 320.90,118.43 325.86,118.39 326.70,118.34 327.54,118.37 328.38,118.48 329.23,118.67 330.07,118.95 330.92,119.30 331.77,119.74 332.63,120.26 333.48,120.86 334.34,121.55 335.20,122.31 336.06,123.16 336.93,124.08 337.80,125.08 338.67,126.16 339.54,127.32 340.42,128.56 341.30,129.87 342.18,131.25 343.06,132.71 343.95,134.24 344.84,135.84 345.73,137.52 346.62,139.26 347.52,141.07 348.42,142.95 349.32,144.89 350.23,146.89 351.13,148.95 352.04,151.08 352.96,153.26 353.87,155.50 354.79,157.79 355.71,160.13 356.63,162.53 357.56,164.97 358.49,167.46 359.42,169.99 360.35,172.56 361.28,175.18 362.22,177.83 363.16,180.51 364.10,183.23 365.04,185.98 365.98,188.76 366.93,191.56 367.88,194.38 368.83,197.23 369.78,200.09 370.73,202.97 371.69,205.86 372.64,208.76 373.60,211.67 374.56,214.58 375.52,217.50 376.48,220.42 377.44,223.33 378.40,226.24 379.37,229.14" fill="url(#lobeUp)"/>
<radialGradient id="dku1" cx="0" cy="0" r="1" gradientUnits="userSpaceOnUse" gradientTransform="translate(340.0,187.3) scale(24,20)"><stop offset="0" stop-color="#842064" stop-opacity="0.65"/><stop offset="0.55" stop-color="#842064" stop-opacity="0.39"/><stop offset="1" stop-color="#842064" stop-opacity="0"/></radialGradient>
<polygon points="271.98,230.41 272.85,227.64 273.73,224.86 274.60,222.07 275.47,219.29 276.33,216.50 277.19,213.71 278.05,210.93 278.91,208.15 279.76,205.38 280.61,202.62 281.46,199.87 282.30,197.14 283.15,194.42 283.99,191.72 284.82,189.04 285.66,186.38 286.49,183.75 287.32,181.14 288.15,178.57 288.98,176.02 289.81,173.50 290.63,171.02 291.46,168.58 292.28,166.17 293.10,163.80 293.92,161.48 294.73,159.20 295.55,156.96 296.37,154.77 297.18,152.63 298.00,150.54 298.81,148.51 299.62,146.52 300.43,144.60 301.25,142.73 302.06,140.92 302.87,139.17 303.68,137.48 304.49,135.85 305.31,134.29 306.12,132.80 306.93,131.37 307.75,130.02 308.56,128.73 309.37,127.51 310.19,126.36 311.01,125.29 311.82,124.29 312.64,123.37 313.46,122.52 314.28,121.75 315.10,121.06 315.93,120.44 316.75,119.91 317.58,119.45 318.40,119.08 319.23,118.78 320.06,118.56 320.90,118.43 325.86,118.39 326.70,118.34 327.54,118.37 328.38,118.48 329.23,118.67 330.07,118.95 330.92,119.30 331.77,119.74 332.63,120.26 333.48,120.86 334.34,121.55 335.20,122.31 336.06,123.16 336.93,124.08 337.80,125.08 338.67,126.16 339.54,127.32 340.42,128.56 341.30,129.87 342.18,131.25 343.06,132.71 343.95,134.24 344.84,135.84 345.73,137.52 346.62,139.26 347.52,141.07 348.42,142.95 349.32,144.89 350.23,146.89 351.13,148.95 352.04,151.08 352.96,153.26 353.87,155.50 354.79,157.79 355.71,160.13 356.63,162.53 357.56,164.97 358.49,167.46 359.42,169.99 360.35,172.56 361.28,175.18 362.22,177.83 363.16,180.51 364.10,183.23 365.04,185.98 365.98,188.76 366.93,191.56 367.88,194.38 368.83,197.23 369.78,200.09 370.73,202.97 371.69,205.86 372.64,208.76 373.60,211.67 374.56,214.58 375.52,217.50 376.48,220.42 377.44,223.33 378.40,226.24 379.37,229.14" fill="url(#dku1)"/>
<polygon points="366.24,204.82 367.19,207.72 368.15,210.62 369.10,213.54 370.06,216.45 371.02,219.37 371.99,222.28 372.95,225.19 373.91,228.10 374.88,230.99 375.84,233.88 376.81,236.74 377.77,239.60 378.74,242.43 379.71,245.24 380.68,248.02 381.65,250.78 382.62,253.51 383.58,256.20 384.55,258.87 385.52,261.49 386.49,264.08 387.46,266.63 388.43,269.13 389.39,271.59 390.36,274.00 391.33,276.36 392.29,278.67 393.26,280.92 394.23,283.12 395.19,285.27 396.15,287.35 397.11,289.37 398.07,291.33 399.03,293.23 399.99,295.06 400.95,296.83 401.91,298.52 402.86,300.15 403.81,301.70 404.76,303.19 405.71,304.60 406.66,305.93 407.61,307.19 408.55,308.37 409.50,309.48 410.44,310.51 411.38,311.46 412.32,312.33 413.25,313.12 414.19,313.83 415.12,314.46 416.05,315.00 416.98,315.47 417.90,315.85 418.83,316.15 419.75,316.37 420.67,316.51 421.59,316.57 422.51,316.54 427.47,316.50 428.38,316.39 429.29,316.21 430.20,315.94 431.10,315.59 432.00,315.16 432.90,314.64 433.80,314.06 434.70,313.39 435.59,312.64 436.49,311.82 437.38,310.92 438.27,309.95 439.16,308.90 440.04,307.78 440.92,306.58 441.81,305.32 442.69,303.98 443.57,302.58 444.44,301.11 445.32,299.57 446.20,297.96 447.07,296.30 447.94,294.57 448.81,292.78 449.68,290.92 450.55,289.02 451.42,287.05 452.28,285.03 453.15,282.96 454.01,280.84 454.87,278.67 455.74,276.44 456.60,274.18 457.46,271.87 458.32,269.51 459.18,267.12 460.04,264.69 460.90,262.22 461.76,259.71 462.62,257.17 463.48,254.61 464.34,252.01 465.19,249.38 466.05,246.73 466.91,244.06 467.77,241.37 468.63,238.65 469.49,235.93 470.35,233.18 471.21,230.43 472.07,227.66 472.93,224.88 473.80,222.10 474.66,219.32 475.53,216.53 476.39,213.74 477.26,210.95 478.13,208.17 478.99,205.40" fill="url(#lobeDn)"/>
<radialGradient id="dkl1" cx="0" cy="0" r="1" gradientUnits="userSpaceOnUse" gradientTransform="translate(407.4,247.6) scale(26,19)"><stop offset="0" stop-color="#7c2260" stop-opacity="0.8"/><stop offset="0.55" stop-color="#7c2260" stop-opacity="0.48"/><stop offset="1" stop-color="#7c2260" stop-opacity="0"/></radialGradient>
<polygon points="366.24,204.82 367.19,207.72 368.15,210.62 369.10,213.54 370.06,216.45 371.02,219.37 371.99,222.28 372.95,225.19 373.91,228.10 374.88,230.99 375.84,233.88 376.81,236.74 377.77,239.60 378.74,242.43 379.71,245.24 380.68,248.02 381.65,250.78 382.62,253.51 383.58,256.20 384.55,258.87 385.52,261.49 386.49,264.08 387.46,266.63 388.43,269.13 389.39,271.59 390.36,274.00 391.33,276.36 392.29,278.67 393.26,280.92 394.23,283.12 395.19,285.27 396.15,287.35 397.11,289.37 398.07,291.33 399.03,293.23 399.99,295.06 400.95,296.83 401.91,298.52 402.86,300.15 403.81,301.70 404.76,303.19 405.71,304.60 406.66,305.93 407.61,307.19 408.55,308.37 409.50,309.48 410.44,310.51 411.38,311.46 412.32,312.33 413.25,313.12 414.19,313.83 415.12,314.46 416.05,315.00 416.98,315.47 417.90,315.85 418.83,316.15 419.75,316.37 420.67,316.51 421.59,316.57 422.51,316.54 427.47,316.50 428.38,316.39 429.29,316.21 430.20,315.94 431.10,315.59 432.00,315.16 432.90,314.64 433.80,314.06 434.70,313.39 435.59,312.64 436.49,311.82 437.38,310.92 438.27,309.95 439.16,308.90 440.04,307.78 440.92,306.58 441.81,305.32 442.69,303.98 443.57,302.58 444.44,301.11 445.32,299.57 446.20,297.96 447.07,296.30 447.94,294.57 448.81,292.78 449.68,290.92 450.55,289.02 451.42,287.05 452.28,285.03 453.15,282.96 454.01,280.84 454.87,278.67 455.74,276.44 456.60,274.18 457.46,271.87 458.32,269.51 459.18,267.12 460.04,264.69 460.90,262.22 461.76,259.71 462.62,257.17 463.48,254.61 464.34,252.01 465.19,249.38 466.05,246.73 466.91,244.06 467.77,241.37 468.63,238.65 469.49,235.93 470.35,233.18 471.21,230.43 472.07,227.66 472.93,224.88 473.80,222.10 474.66,219.32 475.53,216.53 476.39,213.74 477.26,210.95 478.13,208.17 478.99,205.40" fill="url(#dkl1)"/>
<ellipse cx="425.9" cy="246.6" rx="12.5" ry="24.0" fill="#9c4c7e" opacity="0.60" filter="url(#blur2)"/>
<ellipse cx="425.9" cy="246.6" rx="10" ry="21.5" fill="#801858" opacity="1.0" filter="url(#blur05)"/>
<polygon points="466.91,228.74 467.77,225.97 468.63,223.19 469.50,220.40 470.36,217.61 471.22,214.83 472.09,212.04 472.96,209.26 473.83,206.48 474.70,203.71 475.57,200.95 476.44,198.20 477.31,195.47 478.19,192.75 479.06,190.05 479.94,187.37 480.82,184.71 481.70,182.08 482.58,179.47 483.47,176.89 484.35,174.34 485.24,171.83 486.13,169.34 487.02,166.90 487.92,164.49 488.81,162.12 489.71,159.80 490.61,157.51 491.51,155.28 492.42,153.09 493.32,150.95 494.23,148.86 495.15,146.82 496.06,144.84 496.98,142.91 497.90,141.04 498.82,139.23 499.74,137.48 500.67,135.79 501.60,134.16 502.53,132.60 503.46,131.11 504.40,129.68 505.34,128.32 506.28,127.03 507.22,125.81 508.17,124.66 509.12,123.59 510.07,122.59 511.03,121.67 511.98,120.82 512.94,120.05 513.90,119.35 514.87,118.74 515.84,118.20 516.80,117.74 517.78,117.36 518.75,117.07 519.72,116.85 520.70,116.72 525.67,116.67 526.65,116.62 527.64,116.65 528.62,116.76 529.61,116.95 530.60,117.22 531.60,117.58 532.59,118.02 533.59,118.54 534.59,119.14 535.59,119.82 536.59,120.58 537.59,121.43 538.60,122.35 539.60,123.35 540.61,124.43 541.62,125.59 542.62,126.82 543.63,128.13 544.64,129.51 545.65,130.97 546.66,132.50 547.68,134.10 548.69,135.78 549.70,137.52 550.71,139.33 551.72,141.20 552.73,143.14 553.75,145.14 554.76,147.21 555.77,149.33 556.78,151.51 557.79,153.75 558.80,156.04 559.80,158.38 560.81,160.77 561.81,163.22 562.82,165.70 563.82,168.23 564.82,170.81 565.82,173.42 566.82,176.07 567.81,178.76 568.81,181.47 569.80,184.22 570.79,187.00 571.78,189.80 572.76,192.62 573.74,195.47 574.72,198.33 575.70,201.21 576.67,204.10 577.64,207.00 578.61,209.91 579.58,212.82 580.54,215.74 581.50,218.66 582.45,221.57 583.40,224.48 584.35,227.38" fill="url(#lobeUp)"/>
<radialGradient id="dku2" cx="0" cy="0" r="1" gradientUnits="userSpaceOnUse" gradientTransform="translate(539.8,185.6) scale(24,20)"><stop offset="0" stop-color="#842064" stop-opacity="0.65"/><stop offset="0.55" stop-color="#842064" stop-opacity="0.39"/><stop offset="1" stop-color="#842064" stop-opacity="0"/></radialGradient>
<polygon points="466.91,228.74 467.77,225.97 468.63,223.19 469.50,220.40 470.36,217.61 471.22,214.83 472.09,212.04 472.96,209.26 473.83,206.48 474.70,203.71 475.57,200.95 476.44,198.20 477.31,195.47 478.19,192.75 479.06,190.05 479.94,187.37 480.82,184.71 481.70,182.08 482.58,179.47 483.47,176.89 484.35,174.34 485.24,171.83 486.13,169.34 487.02,166.90 487.92,164.49 488.81,162.12 489.71,159.80 490.61,157.51 491.51,155.28 492.42,153.09 493.32,150.95 494.23,148.86 495.15,146.82 496.06,144.84 496.98,142.91 497.90,141.04 498.82,139.23 499.74,137.48 500.67,135.79 501.60,134.16 502.53,132.60 503.46,131.11 504.40,129.68 505.34,128.32 506.28,127.03 507.22,125.81 508.17,124.66 509.12,123.59 510.07,122.59 511.03,121.67 511.98,120.82 512.94,120.05 513.90,119.35 514.87,118.74 515.84,118.20 516.80,117.74 517.78,117.36 518.75,117.07 519.72,116.85 520.70,116.72 525.67,116.67 526.65,116.62 527.64,116.65 528.62,116.76 529.61,116.95 530.60,117.22 531.60,117.58 532.59,118.02 533.59,118.54 534.59,119.14 535.59,119.82 536.59,120.58 537.59,121.43 538.60,122.35 539.60,123.35 540.61,124.43 541.62,125.59 542.62,126.82 543.63,128.13 544.64,129.51 545.65,130.97 546.66,132.50 547.68,134.10 548.69,135.78 549.70,137.52 550.71,139.33 551.72,141.20 552.73,143.14 553.75,145.14 554.76,147.21 555.77,149.33 556.78,151.51 557.79,153.75 558.80,156.04 559.80,158.38 560.81,160.77 561.81,163.22 562.82,165.70 563.82,168.23 564.82,170.81 565.82,173.42 566.82,176.07 567.81,178.76 568.81,181.47 569.80,184.22 570.79,187.00 571.78,189.80 572.76,192.62 573.74,195.47 574.72,198.33 575.70,201.21 576.67,204.10 577.64,207.00 578.61,209.91 579.58,212.82 580.54,215.74 581.50,218.66 582.45,221.57 583.40,224.48 584.35,227.38" fill="url(#dku2)"/>
<ellipse cx="522.1" cy="186.6" rx="12.5" ry="25.0" fill="#a04c82" opacity="0.51" filter="url(#blur2)"/>
<ellipse cx="522.1" cy="186.6" rx="10" ry="22.5" fill="#8a1a60" opacity="0.85" filter="url(#blur05)"/>
<polygon points="571.22,203.06 572.19,205.96 573.16,208.86 574.12,211.78 575.09,214.69 576.05,217.61 577.00,220.52 577.96,223.44 578.91,226.34 579.85,229.23 580.79,232.12 581.73,234.99 582.67,237.84 583.60,240.67 584.53,243.48 585.45,246.26 586.38,249.02 587.29,251.75 588.21,254.45 589.11,257.11 590.02,259.74 590.92,262.33 591.82,264.87 592.71,267.38 593.60,269.83 594.48,272.24 595.36,274.61 596.24,276.92 597.11,279.17 597.98,281.37 598.85,283.52 599.71,285.60 600.56,287.63 601.41,289.59 602.26,291.49 603.11,293.32 603.95,295.08 604.78,296.78 605.62,298.41 606.45,299.96 607.27,301.45 608.09,302.86 608.91,304.20 609.73,305.46 610.54,306.64 611.35,307.75 612.15,308.78 612.95,309.73 613.75,310.60 614.55,311.39 615.34,312.10 616.13,312.73 616.92,313.28 617.70,313.75 618.48,314.13 619.26,314.43 620.04,314.66 620.82,314.80 621.59,314.85 622.36,314.83 627.33,314.79 628.09,314.68 628.85,314.49 629.62,314.22 630.38,313.88 631.14,313.45 631.90,312.94 632.65,312.35 633.41,311.68 634.16,310.94 634.92,310.12 635.67,309.22 636.43,308.25 637.18,307.20 637.94,306.08 638.69,304.89 639.44,303.62 640.20,302.29 640.95,300.88 641.71,299.41 642.46,297.88 643.22,296.27 643.98,294.61 644.74,292.88 645.50,291.09 646.26,289.24 647.02,287.33 647.79,285.37 648.55,283.35 649.32,281.28 650.09,279.16 650.87,276.98 651.64,274.76 652.42,272.50 653.20,270.19 653.99,267.83 654.77,265.44 655.56,263.01 656.35,260.54 657.15,258.03 657.95,255.50 658.75,252.93 659.56,250.33 660.37,247.71 661.18,245.06 662.00,242.39 662.82,239.69 663.65,236.98 664.48,234.25 665.31,231.51 666.15,228.75 667.00,225.99 667.85,223.21 668.70,220.43 669.56,217.64 670.42,214.86 671.29,212.07 672.16,209.28 673.04,206.50 673.92,203.72" fill="url(#lobeDn)"/>
<radialGradient id="dkl2" cx="0" cy="0" r="1" gradientUnits="userSpaceOnUse" gradientTransform="translate(607.2,245.9) scale(26,19)"><stop offset="0" stop-color="#7c2260" stop-opacity="0.8"/><stop offset="0.55" stop-color="#7c2260" stop-opacity="0.48"/><stop offset="1" stop-color="#7c2260" stop-opacity="0"/></radialGradient>
<polygon points="571.22,203.06 572.19,205.96 573.16,208.86 574.12,211.78 575.09,214.69 576.05,217.61 577.00,220.52 577.96,223.44 578.91,226.34 579.85,229.23 580.79,232.12 581.73,234.99 582.67,237.84 583.60,240.67 584.53,243.48 585.45,246.26 586.38,249.02 587.29,251.75 588.21,254.45 589.11,257.11 590.02,259.74 590.92,262.33 591.82,264.87 592.71,267.38 593.60,269.83 594.48,272.24 595.36,274.61 596.24,276.92 597.11,279.17 597.98,281.37 598.85,283.52 599.71,285.60 600.56,287.63 601.41,289.59 602.26,291.49 603.11,293.32 603.95,295.08 604.78,296.78 605.62,298.41 606.45,299.96 607.27,301.45 608.09,302.86 608.91,304.20 609.73,305.46 610.54,306.64 611.35,307.75 612.15,308.78 612.95,309.73 613.75,310.60 614.55,311.39 615.34,312.10 616.13,312.73 616.92,313.28 617.70,313.75 618.48,314.13 619.26,314.43 620.04,314.66 620.82,314.80 621.59,314.85 622.36,314.83 627.33,314.79 628.09,314.68 628.85,314.49 629.62,314.22 630.38,313.88 631.14,313.45 631.90,312.94 632.65,312.35 633.41,311.68 634.16,310.94 634.92,310.12 635.67,309.22 636.43,308.25 637.18,307.20 637.94,306.08 638.69,304.89 639.44,303.62 640.20,302.29 640.95,300.88 641.71,299.41 642.46,297.88 643.22,296.27 643.98,294.61 644.74,292.88 645.50,291.09 646.26,289.24 647.02,287.33 647.79,285.37 648.55,283.35 649.32,281.28 650.09,279.16 650.87,276.98 651.64,274.76 652.42,272.50 653.20,270.19 653.99,267.83 654.77,265.44 655.56,263.01 656.35,260.54 657.15,258.03 657.95,255.50 658.75,252.93 659.56,250.33 660.37,247.71 661.18,245.06 662.00,242.39 662.82,239.69 663.65,236.98 664.48,234.25 665.31,231.51 666.15,228.75 667.00,225.99 667.85,223.21 668.70,220.43 669.56,217.64 670.42,214.86 671.29,212.07 672.16,209.28 673.04,206.50 673.92,203.72" fill="url(#dkl2)"/>
<ellipse cx="614.2" cy="244.9" rx="13.5" ry="25.5" fill="#9c4c7e" opacity="0.60" filter="url(#blur2)"/>
<ellipse cx="614.2" cy="244.9" rx="11" ry="23" fill="#801858" opacity="1.0" filter="url(#blur05)"/>
<polygon points="661.84,227.06 662.68,224.29 663.54,221.51 664.39,218.73 665.25,215.94 666.12,213.15 666.99,210.37 667.87,207.58 668.75,204.81 669.63,202.04 670.52,199.27 671.42,196.53 672.32,193.79 673.23,191.07 674.14,188.37 675.06,185.69 675.98,183.03 676.91,180.40 677.84,177.79 678.78,175.21 679.72,172.66 680.67,170.15 681.63,167.67 682.59,165.22 683.56,162.81 684.53,160.44 685.50,158.12 686.49,155.83 687.48,153.59 688.47,151.40 689.47,149.26 690.47,147.17 691.48,145.13 692.50,143.15 693.52,141.22 694.55,139.35 695.58,137.54 696.61,135.79 697.65,134.10 698.70,132.47 699.75,130.91 700.81,129.41 701.87,127.98 702.93,126.62 704.00,125.33 705.08,124.11 706.15,122.97 707.24,121.89 708.32,120.89 709.41,119.96 710.51,119.11 711.61,118.34 712.71,117.65 713.81,117.03 714.92,116.49 716.03,116.03 717.15,115.65 718.27,115.35 719.39,115.14 720.51,115.00 725.47,114.96 726.60,114.90 727.73,114.93 728.86,115.04 730.00,115.23 731.14,115.50 732.27,115.86 733.41,116.29 734.55,116.81 735.69,117.41 736.84,118.09 737.98,118.85 739.12,119.70 740.26,120.62 741.41,121.62 742.55,122.70 743.69,123.85 744.83,125.08 745.97,126.39 747.11,127.78 748.25,129.23 749.38,130.76 750.51,132.36 751.65,134.03 752.78,135.77 753.90,137.58 755.03,139.46 756.15,141.39 757.27,143.39 758.38,145.46 759.49,147.58 760.60,149.76 761.70,152.00 762.80,154.29 763.90,156.63 764.99,159.02 766.07,161.46 767.15,163.95 768.23,166.48 769.30,169.05 770.36,171.67 771.42,174.32 772.47,177.00 773.52,179.72 774.56,182.46 775.60,185.24 776.62,188.04 777.65,190.87 778.66,193.71 779.67,196.57 780.67,199.45 781.66,202.34 782.65,205.24 783.63,208.15 784.60,211.07 785.56,213.98 786.52,216.90 787.47,219.81 788.41,222.72 789.34,225.62" fill="url(#lobeUp)"/>
<radialGradient id="dku3" cx="0" cy="0" r="1" gradientUnits="userSpaceOnUse" gradientTransform="translate(739.6,183.9) scale(24,20)"><stop offset="0" stop-color="#842064" stop-opacity="0.65"/><stop offset="0.55" stop-color="#842064" stop-opacity="0.39"/><stop offset="1" stop-color="#842064" stop-opacity="0"/></radialGradient>
<polygon points="661.84,227.06 662.68,224.29 663.54,221.51 664.39,218.73 665.25,215.94 666.12,213.15 666.99,210.37 667.87,207.58 668.75,204.81 669.63,202.04 670.52,199.27 671.42,196.53 672.32,193.79 673.23,191.07 674.14,188.37 675.06,185.69 675.98,183.03 676.91,180.40 677.84,177.79 678.78,175.21 679.72,172.66 680.67,170.15 681.63,167.67 682.59,165.22 683.56,162.81 684.53,160.44 685.50,158.12 686.49,155.83 687.48,153.59 688.47,151.40 689.47,149.26 690.47,147.17 691.48,145.13 692.50,143.15 693.52,141.22 694.55,139.35 695.58,137.54 696.61,135.79 697.65,134.10 698.70,132.47 699.75,130.91 700.81,129.41 701.87,127.98 702.93,126.62 704.00,125.33 705.08,124.11 706.15,122.97 707.24,121.89 708.32,120.89 709.41,119.96 710.51,119.11 711.61,118.34 712.71,117.65 713.81,117.03 714.92,116.49 716.03,116.03 717.15,115.65 718.27,115.35 719.39,115.14 720.51,115.00 725.47,114.96 726.60,114.90 727.73,114.93 728.86,115.04 730.00,115.23 731.14,115.50 732.27,115.86 733.41,116.29 734.55,116.81 735.69,117.41 736.84,118.09 737.98,118.85 739.12,119.70 740.26,120.62 741.41,121.62 742.55,122.70 743.69,123.85 744.83,125.08 745.97,126.39 747.11,127.78 748.25,129.23 749.38,130.76 750.51,132.36 751.65,134.03 752.78,135.77 753.90,137.58 755.03,139.46 756.15,141.39 757.27,143.39 758.38,145.46 759.49,147.58 760.60,149.76 761.70,152.00 762.80,154.29 763.90,156.63 764.99,159.02 766.07,161.46 767.15,163.95 768.23,166.48 769.30,169.05 770.36,171.67 771.42,174.32 772.47,177.00 773.52,179.72 774.56,182.46 775.60,185.24 776.62,188.04 777.65,190.87 778.66,193.71 779.67,196.57 780.67,199.45 781.66,202.34 782.65,205.24 783.63,208.15 784.60,211.07 785.56,213.98 786.52,216.90 787.47,219.81 788.41,222.72 789.34,225.62" fill="url(#dku3)"/>
<ellipse cx="715.6" cy="184.9" rx="11.5" ry="24.5" fill="#a04c82" opacity="0.54" filter="url(#blur2)"/>
<ellipse cx="715.6" cy="184.9" rx="9" ry="22" fill="#8a1a60" opacity="0.9" filter="url(#blur05)"/>
</g>
<g transform="translate(124.95,219.59) rotate(-0.4918)"><path d="M0,-29.6 L600.30,-29.6 Q602.50,-28.6 602.90,-21.6 L603.10,21.6 Q602.50,28.6 600.30,29.6 L0,29.6 Z" fill="url(#shaft)"/></g>
<g clip-path="url(#bcl)">
<polygon points="121.15,190.03 122.75,190.04 124.35,190.13 125.95,190.32 127.56,190.59 129.17,190.94 130.78,191.38 132.40,191.90 134.02,192.51 135.65,193.19 137.28,193.95 138.92,194.79 140.56,195.70 142.21,196.68 143.86,197.73 145.52,198.84 147.19,200.02 148.86,201.25 150.53,202.54 152.22,203.88 153.91,205.26 155.61,206.69 157.31,208.15 159.02,209.65 160.73,211.17 162.45,212.72 164.18,214.29 165.92,215.87 167.66,217.47 169.40,219.07 165.22,218.76 164.69,217.14 164.16,215.52 163.63,213.91 163.11,212.29 162.58,210.68 162.06,209.07 161.54,207.46 161.02,205.85 160.50,204.25 159.99,202.65 159.47,201.06 158.96,199.47 158.45,197.89 157.95,196.31 157.44,194.74 156.94,193.18 156.43,191.62 155.93,190.07 155.43,188.53" fill="url(#wedgeUp)"/>
<polyline points="121.15,190.03 122.75,190.04 124.35,190.13 125.95,190.32 127.56,190.59 129.17,190.94 130.78,191.38 132.40,191.90 134.02,192.51 135.65,193.19 137.28,193.95 138.92,194.79 140.56,195.70 142.21,196.68 143.86,197.73 145.52,198.84 147.19,200.02 148.86,201.25 150.53,202.54 152.22,203.88 153.91,205.26 155.61,206.69 157.31,208.15 159.02,209.65 160.73,211.17 162.45,212.72 164.18,214.29 165.92,215.87 167.66,217.47 169.40,219.07" fill="none" stroke="#a4a4a4" stroke-width="5" opacity="0.45" filter="url(#blur1)" transform="translate(2,2)"/>
<polyline points="121.15,190.03 122.75,190.04 124.35,190.13 125.95,190.32 127.56,190.59 129.17,190.94 130.78,191.38 132.40,191.90 134.02,192.51 135.65,193.19 137.28,193.95 138.92,194.79 140.56,195.70 142.21,196.68 143.86,197.73 145.52,198.84 147.19,200.02 148.86,201.25 150.53,202.54 152.22,203.88 153.91,205.26 155.61,206.69 157.31,208.15 159.02,209.65 160.73,211.17 162.45,212.72 164.18,214.29 165.92,215.87 167.66,217.47 169.40,219.07" fill="none" stroke="#b8b8b8" stroke-width="1.4" opacity="0.6" filter="url(#blur05)"/>
<polygon points="170.32,218.71 170.85,220.33 171.38,221.95 171.92,223.57 172.46,225.18 173.00,226.80 173.54,228.41 174.08,230.02 174.63,231.63 175.17,233.23 175.72,234.83 176.27,236.43 176.82,238.02 177.37,239.60 177.93,241.18 178.48,242.76 179.04,244.32 179.60,245.88 180.15,247.44 180.71,248.98 227.55,248.31 225.75,248.29 223.94,248.18 222.13,247.98 220.32,247.70 218.51,247.33 216.70,246.88 214.88,246.34 213.07,245.73 211.26,245.03 209.44,244.26 207.63,243.41 205.82,242.49 204.01,241.49 202.20,240.43 200.39,239.31 198.59,238.13 196.78,236.88 194.99,235.59 193.19,234.25 191.40,232.85 189.61,231.42 187.82,229.95 186.04,228.45 184.26,226.92 182.49,225.37 180.72,223.80 178.96,222.21 177.20,220.62 175.45,219.02" fill="url(#wedgeDn)"/>
<polyline points="227.55,248.31 225.75,248.29 223.94,248.18 222.13,247.98 220.32,247.70 218.51,247.33 216.70,246.88 214.88,246.34 213.07,245.73 211.26,245.03 209.44,244.26 207.63,243.41 205.82,242.49 204.01,241.49 202.20,240.43 200.39,239.31 198.59,238.13 196.78,236.88 194.99,235.59 193.19,234.25 191.40,232.85 189.61,231.42 187.82,229.95 186.04,228.45 184.26,226.92 182.49,225.37 180.72,223.80 178.96,222.21 177.20,220.62 175.45,219.02" fill="none" stroke="#a0a0a0" stroke-width="5" opacity="0.4" filter="url(#blur1)" transform="translate(2,-2)"/>
<polyline points="227.55,248.31 225.75,248.29 223.94,248.18 222.13,247.98 220.32,247.70 218.51,247.33 216.70,246.88 214.88,246.34 213.07,245.73 211.26,245.03 209.44,244.26 207.63,243.41 205.82,242.49 204.01,241.49 202.20,240.43 200.39,239.31 198.59,238.13 196.78,236.88 194.99,235.59 193.19,234.25 191.40,232.85 189.61,231.42 187.82,229.95 186.04,228.45 184.26,226.92 182.49,225.37 180.72,223.80 178.96,222.21 177.20,220.62 175.45,219.02" fill="none" stroke="#a8a8a8" stroke-width="1.4" opacity="0.6" filter="url(#blur05)"/>
<polygon points="121.09,120.15 121.73,120.10 122.36,120.12 123.00,120.20 123.64,120.36 124.29,120.59 124.93,120.89 125.58,121.26 126.23,121.69 126.88,122.20 127.53,122.77 128.19,123.42 128.85,124.13 129.51,124.91 130.18,125.75 130.85,126.67 131.52,127.65 132.20,128.70 132.88,129.81 133.56,130.98 134.25,132.23 134.94,133.53 135.64,134.89 136.34,136.32 137.04,137.81 137.75,139.36 138.47,140.96 139.18,142.62 139.91,144.34 140.63,146.12 141.36,147.94 142.10,149.82 142.84,151.76 143.59,153.74 144.34,155.77 145.09,157.84 145.85,159.96 146.62,162.13 147.39,164.34 148.17,166.59 148.95,168.88 149.73,171.20 150.53,173.56 151.32,175.96 152.13,178.39 152.93,180.85 153.75,183.33 154.56,185.85 155.39,188.39 156.22,190.95 157.05,193.53 157.89,196.13 158.73,198.75 159.58,201.39 160.44,204.04 161.29,206.70 162.16,209.37 163.03,212.05 163.90,214.73 164.78,217.41 165.66,220.10 166.55,222.79 167.45,225.47 168.34,228.15 169.25,230.82 170.15,233.49 171.06,236.14 171.98,238.78 172.90,241.40 173.82,244.01 174.75,246.60 175.68,249.17 176.62,251.72 177.55,254.24 178.50,256.74 179.44,259.21 180.39,261.64 181.34,264.05 182.30,266.42 183.26,268.76 184.22,271.06 185.19,273.32 186.15,275.55 187.12,277.73 188.09,279.86 189.07,281.95 190.05,284.00 191.02,285.99 192.00,287.94 192.99,289.84 193.97,291.68 194.96,293.47 195.94,295.21 196.93,296.89 197.92,298.52 198.91,300.08 199.90,301.59 200.89,303.03 201.89,304.42 202.88,305.74 203.87,307.00 204.87,308.20 205.86,309.33 206.85,310.40 207.85,311.40 208.84,312.34 209.83,313.21 210.82,314.01 211.82,314.74 212.81,315.41 213.80,316.01 214.79,316.53 215.77,316.99 216.76,317.38 217.75,317.70 218.73,317.95 219.71,318.13 220.70,318.24 221.67,318.29 222.65,318.26 227.62,318.22 226.64,318.24 225.67,318.20 224.69,318.09 223.71,317.91 222.73,317.66 221.75,317.34 220.76,316.95 219.78,316.49 218.79,315.96 217.81,315.37 216.82,314.70 215.83,313.97 214.84,313.17 213.85,312.30 212.86,311.36 211.87,310.36 210.88,309.29 209.89,308.16 208.90,306.96 207.91,305.70 206.92,304.38 205.93,302.99 204.94,301.54 203.95,300.04 202.96,298.47 201.98,296.85 200.99,295.17 200.01,293.43 199.02,291.64 198.04,289.79 197.06,287.90 196.08,285.95 195.11,283.95 194.13,281.91 193.16,279.82 192.19,277.68 191.22,275.50 190.26,273.28 189.30,271.02 188.34,268.72 187.38,266.38 186.42,264.01 185.47,261.60 184.53,259.16 183.58,256.69 182.64,254.20 181.70,251.68 180.77,249.13 179.84,246.56 178.91,243.97 177.99,241.36 177.07,238.74 176.16,236.10 175.24,233.44 174.34,230.78 173.44,228.11 172.54,225.43 171.65,222.74 170.76,220.06 169.87,217.37 169.00,214.68 168.12,212.00 167.25,209.33 166.39,206.66 165.53,204.00 164.67,201.35 163.82,198.71 162.98,196.09 162.14,193.49 161.30,190.90 160.47,188.34 159.65,185.80 158.83,183.29 158.02,180.80 157.21,178.34 156.40,175.91 155.61,173.52 154.81,171.16 154.02,168.83 153.24,166.54 152.46,164.29 151.69,162.09 150.92,159.92 150.16,157.80 149.40,155.72 148.65,153.69 147.90,151.71 147.16,149.78 146.42,147.90 145.68,146.07 144.96,144.30 144.23,142.58 143.51,140.92 142.80,139.31 142.08,137.77 141.38,136.28 140.67,134.85 139.98,133.49 139.28,132.18 138.59,130.94 137.90,129.76 137.22,128.65 136.54,127.61 135.86,126.63 135.19,125.71 134.52,124.86 133.85,124.08 133.19,123.37 132.53,122.73 131.87,122.16 131.22,121.65 130.57,121.21 129.91,120.85 129.27,120.55 128.62,120.32 127.98,120.16 127.34,120.07 126.70,120.05 126.06,120.10" fill="url(#band)"/>
<polygon points="320.97,188.31 322.65,188.32 324.33,188.42 326.02,188.60 327.70,188.87 329.39,189.22 331.09,189.66 332.78,190.18 334.48,190.79 336.18,191.47 337.88,192.23 339.59,193.07 341.30,193.98 343.01,194.96 344.73,196.01 346.44,197.12 348.16,198.29 349.89,199.53 351.61,200.81 353.34,202.15 355.07,203.53 356.81,204.96 358.54,206.42 360.28,207.92 362.02,209.44 363.76,210.99 365.51,212.56 367.25,214.15 369.00,215.74 370.75,217.34 370.24,217.00 369.71,215.38 369.18,213.76 368.65,212.15 368.12,210.53 367.59,208.92 367.06,207.31 366.53,205.70 366.00,204.09 365.47,202.49 364.94,200.89 364.41,199.30 363.88,197.71 363.36,196.13 362.83,194.55 362.30,192.98 361.78,191.42 361.25,189.86 360.73,188.32 360.21,186.77" fill="url(#wedgeUp)"/>
<polyline points="320.97,188.31 322.65,188.32 324.33,188.42 326.02,188.60 327.70,188.87 329.39,189.22 331.09,189.66 332.78,190.18 334.48,190.79 336.18,191.47 337.88,192.23 339.59,193.07 341.30,193.98 343.01,194.96 344.73,196.01 346.44,197.12 348.16,198.29 349.89,199.53 351.61,200.81 353.34,202.15 355.07,203.53 356.81,204.96 358.54,206.42 360.28,207.92 362.02,209.44 363.76,210.99 365.51,212.56 367.25,214.15 369.00,215.74 370.75,217.34" fill="none" stroke="#a4a4a4" stroke-width="5" opacity="0.45" filter="url(#blur1)" transform="translate(2,2)"/>
<polyline points="320.97,188.31 322.65,188.32 324.33,188.42 326.02,188.60 327.70,188.87 329.39,189.22 331.09,189.66 332.78,190.18 334.48,190.79 336.18,191.47 337.88,192.23 339.59,193.07 341.30,193.98 343.01,194.96 344.73,196.01 346.44,197.12 348.16,198.29 349.89,199.53 351.61,200.81 353.34,202.15 355.07,203.53 356.81,204.96 358.54,206.42 360.28,207.92 362.02,209.44 363.76,210.99 365.51,212.56 367.25,214.15 369.00,215.74 370.75,217.34" fill="none" stroke="#b8b8b8" stroke-width="1.4" opacity="0.6" filter="url(#blur05)"/>
<polygon points="375.34,216.95 375.87,218.57 376.40,220.19 376.94,221.81 377.47,223.42 378.00,225.04 378.54,226.65 379.07,228.26 379.61,229.87 380.14,231.47 380.68,233.07 381.21,234.67 381.75,236.26 382.29,237.84 382.82,239.42 383.36,241.00 383.89,242.57 384.43,244.13 384.97,245.68 385.50,247.23 427.39,246.60 425.66,246.57 423.94,246.46 422.21,246.27 420.48,245.98 418.75,245.61 417.01,245.16 415.28,244.62 413.54,244.01 411.80,243.31 410.06,242.54 408.31,241.69 406.57,240.76 404.82,239.77 403.07,238.71 401.33,237.59 399.58,236.40 397.82,235.16 396.07,233.86 394.32,232.52 392.57,231.13 390.81,229.70 389.06,228.23 387.31,226.73 385.55,225.20 383.80,223.64 382.05,222.07 380.30,220.48 378.54,218.89 376.79,217.29" fill="url(#wedgeDn)"/>
<polyline points="427.39,246.60 425.66,246.57 423.94,246.46 422.21,246.27 420.48,245.98 418.75,245.61 417.01,245.16 415.28,244.62 413.54,244.01 411.80,243.31 410.06,242.54 408.31,241.69 406.57,240.76 404.82,239.77 403.07,238.71 401.33,237.59 399.58,236.40 397.82,235.16 396.07,233.86 394.32,232.52 392.57,231.13 390.81,229.70 389.06,228.23 387.31,226.73 385.55,225.20 383.80,223.64 382.05,222.07 380.30,220.48 378.54,218.89 376.79,217.29" fill="none" stroke="#a0a0a0" stroke-width="5" opacity="0.4" filter="url(#blur1)" transform="translate(2,-2)"/>
<polyline points="427.39,246.60 425.66,246.57 423.94,246.46 422.21,246.27 420.48,245.98 418.75,245.61 417.01,245.16 415.28,244.62 413.54,244.01 411.80,243.31 410.06,242.54 408.31,241.69 406.57,240.76 404.82,239.77 403.07,238.71 401.33,237.59 399.58,236.40 397.82,235.16 396.07,233.86 394.32,232.52 392.57,231.13 390.81,229.70 389.06,228.23 387.31,226.73 385.55,225.20 383.80,223.64 382.05,222.07 380.30,220.48 378.54,218.89 376.79,217.29" fill="none" stroke="#a8a8a8" stroke-width="1.4" opacity="0.6" filter="url(#blur05)"/>
<polygon points="320.90,118.43 321.67,118.38 322.44,118.40 323.21,118.49 323.98,118.64 324.76,118.87 325.54,119.17 326.32,119.53 327.10,119.97 327.88,120.47 328.67,121.05 329.46,121.69 330.25,122.40 331.04,123.18 331.83,124.02 332.63,124.94 333.43,125.92 334.23,126.96 335.03,128.07 335.83,129.25 336.64,130.49 337.45,131.79 338.26,133.16 339.08,134.58 339.89,136.07 340.71,137.61 341.53,139.22 342.36,140.88 343.18,142.60 344.01,144.37 344.84,146.20 345.68,148.08 346.51,150.01 347.35,151.99 348.19,154.02 349.03,156.09 349.87,158.21 350.72,160.38 351.57,162.59 352.42,164.83 353.27,167.12 354.12,169.45 354.98,171.81 355.84,174.20 356.70,176.63 357.56,179.09 358.42,181.58 359.29,184.09 360.16,186.63 361.03,189.19 361.90,191.77 362.77,194.38 363.64,197.00 364.52,199.63 365.40,202.28 366.28,204.94 367.16,207.61 368.04,210.29 368.92,212.97 369.80,215.65 370.69,218.34 371.57,221.03 372.46,223.71 373.34,226.39 374.23,229.06 375.12,231.73 376.01,234.38 376.90,237.02 377.79,239.65 378.68,242.26 379.57,244.85 380.47,247.42 381.36,249.96 382.25,252.49 383.14,254.98 384.04,257.45 384.93,259.89 385.82,262.30 386.71,264.67 387.61,267.01 388.50,269.31 389.39,271.57 390.28,273.79 391.17,275.97 392.06,278.11 392.95,280.20 393.84,282.25 394.73,284.25 395.61,286.19 396.50,288.09 397.39,289.94 398.27,291.73 399.16,293.47 400.04,295.15 400.92,296.77 401.80,298.34 402.68,299.85 403.56,301.30 404.44,302.68 405.31,304.01 406.19,305.27 407.06,306.47 407.93,307.60 408.80,308.67 409.67,309.67 410.54,310.61 411.40,311.48 412.27,312.28 413.13,313.02 413.99,313.68 414.85,314.28 415.71,314.81 416.56,315.27 417.42,315.66 418.27,315.98 419.12,316.23 419.97,316.41 420.82,316.53 421.66,316.57 422.51,316.54 427.47,316.50 426.63,316.53 425.79,316.48 424.94,316.37 424.10,316.19 423.25,315.94 422.40,315.62 421.55,315.23 420.70,314.77 419.84,314.24 418.99,313.64 418.13,312.97 417.27,312.24 416.41,311.44 415.55,310.57 414.68,309.63 413.82,308.63 412.95,307.56 412.08,306.42 411.21,305.23 410.34,303.96 409.47,302.64 408.59,301.25 407.72,299.80 406.84,298.30 405.96,296.73 405.08,295.11 404.20,293.42 403.32,291.69 402.44,289.89 401.56,288.05 400.67,286.15 399.79,284.20 398.90,282.20 398.02,280.16 397.13,278.07 396.24,275.93 395.35,273.75 394.46,271.53 393.57,269.27 392.68,266.96 391.79,264.63 390.90,262.25 390.01,259.85 389.12,257.41 388.23,254.94 387.34,252.44 386.45,249.92 385.55,247.37 384.66,244.80 383.77,242.21 382.88,239.60 381.99,236.98 381.10,234.34 380.21,231.68 379.33,229.02 378.44,226.35 377.55,223.67 376.66,220.98 375.78,218.30 374.90,215.61 374.01,212.93 373.13,210.24 372.25,207.57 371.37,204.90 370.49,202.24 369.61,199.59 368.74,196.95 367.86,194.33 366.99,191.73 366.12,189.15 365.25,186.58 364.38,184.05 363.51,181.53 362.64,179.05 361.78,176.59 360.92,174.16 360.06,171.76 359.20,169.40 358.35,167.08 357.49,164.79 356.64,162.54 355.79,160.33 354.94,158.17 354.10,156.05 353.25,153.97 352.41,151.94 351.57,149.96 350.73,148.03 349.90,146.15 349.07,144.33 348.23,142.55 347.41,140.84 346.58,139.17 345.76,137.57 344.93,136.02 344.11,134.54 343.30,133.11 342.48,131.75 341.67,130.44 340.86,129.21 340.05,128.03 339.25,126.92 338.44,125.87 337.64,124.89 336.84,123.98 336.04,123.13 335.25,122.36 334.46,121.65 333.66,121.00 332.88,120.43 332.09,119.93 331.30,119.49 330.52,119.12 329.74,118.83 328.96,118.60 328.18,118.44 327.41,118.36 326.63,118.34 325.86,118.39" fill="url(#band)"/>
<polygon points="520.79,186.60 522.55,186.60 524.32,186.70 526.08,186.88 527.85,187.15 529.62,187.50 531.39,187.94 533.16,188.46 534.94,189.06 536.71,189.75 538.49,190.51 540.26,191.34 542.04,192.25 543.81,193.23 545.59,194.28 547.37,195.40 549.14,196.57 550.92,197.80 552.69,199.09 554.47,200.42 556.24,201.81 558.01,203.23 559.78,204.69 561.55,206.19 563.31,207.72 565.07,209.27 566.83,210.83 568.59,212.42 570.34,214.01 572.10,215.61 575.27,215.24 574.73,213.62 574.20,212.00 573.66,210.39 573.13,208.77 572.59,207.16 572.05,205.55 571.51,203.94 570.97,202.33 570.43,200.73 569.89,199.13 569.35,197.54 568.80,195.95 568.26,194.37 567.72,192.80 567.17,191.23 566.62,189.66 566.08,188.11 565.53,186.56 564.98,185.02" fill="url(#wedgeUp)"/>
<polyline points="520.79,186.60 522.55,186.60 524.32,186.70 526.08,186.88 527.85,187.15 529.62,187.50 531.39,187.94 533.16,188.46 534.94,189.06 536.71,189.75 538.49,190.51 540.26,191.34 542.04,192.25 543.81,193.23 545.59,194.28 547.37,195.40 549.14,196.57 550.92,197.80 552.69,199.09 554.47,200.42 556.24,201.81 558.01,203.23 559.78,204.69 561.55,206.19 563.31,207.72 565.07,209.27 566.83,210.83 568.59,212.42 570.34,214.01 572.10,215.61" fill="none" stroke="#a4a4a4" stroke-width="5" opacity="0.45" filter="url(#blur1)" transform="translate(2,2)"/>
<polyline points="520.79,186.60 522.55,186.60 524.32,186.70 526.08,186.88 527.85,187.15 529.62,187.50 531.39,187.94 533.16,188.46 534.94,189.06 536.71,189.75 538.49,190.51 540.26,191.34 542.04,192.25 543.81,193.23 545.59,194.28 547.37,195.40 549.14,196.57 550.92,197.80 552.69,199.09 554.47,200.42 556.24,201.81 558.01,203.23 559.78,204.69 561.55,206.19 563.31,207.72 565.07,209.27 566.83,210.83 568.59,212.42 570.34,214.01 572.10,215.61" fill="none" stroke="#b8b8b8" stroke-width="1.4" opacity="0.6" filter="url(#blur05)"/>
<polygon points="580.36,215.19 580.89,216.81 581.42,218.43 581.95,220.05 582.48,221.66 583.01,223.28 583.54,224.89 584.07,226.50 584.59,228.11 585.11,229.71 585.64,231.31 586.16,232.91 586.68,234.50 587.20,236.08 587.72,237.66 588.24,239.24 588.75,240.81 589.27,242.37 589.78,243.92 590.29,245.47 627.23,244.88 625.58,244.86 623.94,244.75 622.29,244.55 620.64,244.26 618.99,243.89 617.33,243.44 615.67,242.90 614.01,242.29 612.34,241.59 610.67,240.81 609.00,239.96 607.32,239.04 605.64,238.05 603.95,236.99 602.26,235.86 600.56,234.68 598.86,233.43 597.16,232.14 595.45,230.79 593.74,229.40 592.02,227.97 590.30,226.50 588.58,225.00 586.85,223.47 585.11,221.91 583.38,220.34 581.63,218.76 579.89,217.16 578.14,215.56" fill="url(#wedgeDn)"/>
<polyline points="627.23,244.88 625.58,244.86 623.94,244.75 622.29,244.55 620.64,244.26 618.99,243.89 617.33,243.44 615.67,242.90 614.01,242.29 612.34,241.59 610.67,240.81 609.00,239.96 607.32,239.04 605.64,238.05 603.95,236.99 602.26,235.86 600.56,234.68 598.86,233.43 597.16,232.14 595.45,230.79 593.74,229.40 592.02,227.97 590.30,226.50 588.58,225.00 586.85,223.47 585.11,221.91 583.38,220.34 581.63,218.76 579.89,217.16 578.14,215.56" fill="none" stroke="#a0a0a0" stroke-width="5" opacity="0.4" filter="url(#blur1)" transform="translate(2,-2)"/>
<polyline points="627.23,244.88 625.58,244.86 623.94,244.75 622.29,244.55 620.64,244.26 618.99,243.89 617.33,243.44 615.67,242.90 614.01,242.29 612.34,241.59 610.67,240.81 609.00,239.96 607.32,239.04 605.64,238.05 603.95,236.99 602.26,235.86 600.56,234.68 598.86,233.43 597.16,232.14 595.45,230.79 593.74,229.40 592.02,227.97 590.30,226.50 588.58,225.00 586.85,223.47 585.11,221.91 583.38,220.34 581.63,218.76 579.89,217.16 578.14,215.56" fill="none" stroke="#a8a8a8" stroke-width="1.4" opacity="0.6" filter="url(#blur05)"/>
<polygon points="520.70,116.72 521.60,116.66 522.51,116.68 523.42,116.77 524.32,116.92 525.23,117.15 526.14,117.44 527.06,117.81 527.97,118.24 528.89,118.75 529.80,119.32 530.72,119.96 531.64,120.67 532.56,121.45 533.48,122.29 534.41,123.20 535.33,124.18 536.25,125.23 537.18,126.34 538.11,127.51 539.03,128.75 539.96,130.05 540.89,131.42 541.82,132.84 542.75,134.33 543.68,135.87 544.60,137.47 545.53,139.14 546.46,140.85 547.39,142.62 548.32,144.45 549.25,146.33 550.18,148.26 551.11,150.24 552.04,152.27 552.97,154.34 553.89,156.46 554.82,158.63 555.74,160.83 556.67,163.08 557.59,165.37 558.51,167.69 559.43,170.05 560.35,172.45 561.27,174.87 562.19,177.33 563.10,179.82 564.02,182.33 564.93,184.87 565.84,187.43 566.75,190.02 567.65,192.62 568.56,195.24 569.46,197.87 570.36,200.52 571.26,203.18 572.15,205.85 573.05,208.53 573.94,211.21 574.82,213.89 575.71,216.58 576.59,219.27 577.47,221.95 578.35,224.63 579.22,227.30 580.09,229.97 580.96,232.62 581.82,235.26 582.69,237.89 583.55,240.50 584.40,243.09 585.25,245.66 586.10,248.21 586.95,250.73 587.79,253.23 588.63,255.69 589.47,258.13 590.30,260.54 591.13,262.91 591.95,265.25 592.77,267.56 593.59,269.82 594.41,272.04 595.22,274.22 596.03,276.36 596.83,278.45 597.63,280.50 598.43,282.50 599.23,284.45 600.02,286.34 600.80,288.19 601.59,289.98 602.37,291.72 603.15,293.41 603.92,295.03 604.69,296.60 605.46,298.11 606.23,299.56 606.99,300.94 607.75,302.27 608.50,303.53 609.25,304.73 610.00,305.87 610.75,306.94 611.49,307.94 612.23,308.88 612.97,309.75 613.71,310.55 614.44,311.29 615.17,311.96 615.90,312.56 616.63,313.09 617.35,313.55 618.07,313.94 618.79,314.26 619.51,314.51 620.22,314.70 620.94,314.81 621.65,314.85 622.36,314.83 627.33,314.79 626.62,314.81 625.91,314.77 625.20,314.65 624.49,314.47 623.77,314.22 623.06,313.90 622.34,313.50 621.62,313.04 620.90,312.51 620.17,311.91 619.44,311.25 618.71,310.51 617.98,309.71 617.25,308.84 616.51,307.90 615.77,306.89 615.02,305.82 614.28,304.69 613.53,303.49 612.77,302.23 612.02,300.90 611.26,299.51 610.50,298.06 609.73,296.56 608.97,294.99 608.19,293.36 607.42,291.68 606.64,289.94 605.86,288.15 605.07,286.30 604.28,284.40 603.49,282.45 602.70,280.46 601.90,278.41 601.10,276.32 600.29,274.18 599.48,272.00 598.67,269.78 597.85,267.51 597.03,265.21 596.20,262.87 595.38,260.50 594.55,258.09 593.71,255.65 592.87,253.18 592.03,250.68 591.19,248.16 590.34,245.61 589.49,243.04 588.63,240.45 587.78,237.84 586.92,235.22 586.05,232.58 585.18,229.92 584.31,227.26 583.44,224.59 582.56,221.91 581.68,219.23 580.80,216.54 579.92,213.85 579.03,211.17 578.14,208.48 577.25,205.81 576.35,203.14 575.45,200.48 574.55,197.83 573.65,195.19 572.74,192.57 571.84,189.97 570.93,187.39 570.02,184.83 569.10,182.29 568.19,179.78 567.27,177.29 566.35,174.83 565.43,172.40 564.51,170.01 563.59,167.65 562.67,165.32 561.74,163.04 560.82,160.79 559.89,158.58 558.96,156.42 558.03,154.30 557.10,152.22 556.17,150.19 555.24,148.22 554.31,146.29 553.38,144.41 552.45,142.58 551.51,140.81 550.58,139.09 549.65,137.43 548.72,135.83 547.79,134.28 546.85,132.80 545.92,131.37 544.99,130.01 544.06,128.71 543.13,127.47 542.20,126.29 541.27,125.18 540.35,124.14 539.42,123.16 538.49,122.25 537.57,121.40 536.64,120.63 535.72,119.92 534.80,119.28 533.88,118.70 532.96,118.20 532.04,117.77 531.13,117.40 530.21,117.11 529.30,116.88 528.39,116.72 527.48,116.64 526.57,116.62 525.67,116.67" fill="url(#band)"/>
<polygon points="720.62,184.88 722.46,184.89 724.30,184.98 726.15,185.16 728.00,185.43 729.85,185.78 731.70,186.22 733.55,186.74 735.39,187.34 737.24,188.03 739.09,188.79 740.94,189.62 742.78,190.53 744.62,191.51 746.46,192.56 748.29,193.67 750.12,194.84 751.95,196.08 753.77,197.36 755.59,198.70 757.40,200.08 759.21,201.50 761.01,202.97 762.81,204.46 764.60,205.99 766.38,207.54 768.16,209.11 769.93,210.69 771.69,212.28 773.44,213.88 780.29,213.48 779.75,211.86 779.22,210.24 778.68,208.63 778.14,207.01 777.59,205.40 777.05,203.79 776.50,202.18 775.95,200.57 775.40,198.97 774.84,197.38 774.28,195.78 773.73,194.20 773.16,192.61 772.60,191.04 772.04,189.47 771.47,187.90 770.90,186.35 770.33,184.80 769.76,183.26" fill="url(#wedgeUp)"/>
<polyline points="720.62,184.88 722.46,184.89 724.30,184.98 726.15,185.16 728.00,185.43 729.85,185.78 731.70,186.22 733.55,186.74 735.39,187.34 737.24,188.03 739.09,188.79 740.94,189.62 742.78,190.53 744.62,191.51 746.46,192.56 748.29,193.67 750.12,194.84 751.95,196.08 753.77,197.36 755.59,198.70 757.40,200.08 759.21,201.50 761.01,202.97 762.81,204.46 764.60,205.99 766.38,207.54 768.16,209.11 769.93,210.69 771.69,212.28 773.44,213.88" fill="none" stroke="#a4a4a4" stroke-width="5" opacity="0.45" filter="url(#blur1)" transform="translate(2,2)"/>
<polyline points="720.62,184.88 722.46,184.89 724.30,184.98 726.15,185.16 728.00,185.43 729.85,185.78 731.70,186.22 733.55,186.74 735.39,187.34 737.24,188.03 739.09,188.79 740.94,189.62 742.78,190.53 744.62,191.51 746.46,192.56 748.29,193.67 750.12,194.84 751.95,196.08 753.77,197.36 755.59,198.70 757.40,200.08 759.21,201.50 761.01,202.97 762.81,204.46 764.60,205.99 766.38,207.54 768.16,209.11 769.93,210.69 771.69,212.28 773.44,213.88" fill="none" stroke="#b8b8b8" stroke-width="1.4" opacity="0.6" filter="url(#blur05)"/>
<polygon points="720.51,115.00 721.54,114.95 722.58,114.96 723.62,115.05 724.66,115.20 725.71,115.43 726.75,115.72 727.80,116.09 728.84,116.52 729.89,117.02 730.94,117.59 731.99,118.23 733.04,118.94 734.09,119.72 735.14,120.56 736.18,121.47 737.23,122.45 738.28,123.49 739.33,124.60 740.38,125.78 741.42,127.01 742.47,128.31 743.51,129.68 744.56,131.10 745.60,132.59 746.64,134.13 747.68,135.73 748.71,137.39 749.74,139.11 750.78,140.88 751.80,142.70 752.83,144.58 753.85,146.51 754.87,148.49 755.89,150.52 756.90,152.59 757.91,154.71 758.92,156.87 759.92,159.08 760.92,161.33 761.91,163.61 762.90,165.94 763.89,168.30 764.87,170.69 765.85,173.12 766.82,175.58 767.78,178.06 768.75,180.57 769.70,183.11 770.65,185.67 771.60,188.26 772.54,190.86 773.47,193.48 774.40,196.11 775.32,198.76 776.24,201.42 777.15,204.09 778.06,206.77 778.95,209.45 779.85,212.14 780.73,214.82 781.61,217.51 782.48,220.19 783.35,222.87 784.21,225.55 785.06,228.21 785.91,230.86 786.75,233.50 787.58,236.13 788.41,238.74 789.23,241.33 790.04,243.90 790.85,246.45 791.65,248.97 792.44,251.47 793.22,253.94 794.00,256.38 794.77,258.79 795.54,261.16 796.30,263.50 797.05,265.80 797.80,268.07 798.54,270.29 799.27,272.47 800.00,274.61 800.72,276.70 801.43,278.75 802.14,280.75 802.84,282.70 803.53,284.60 804.22,286.45 804.91,288.24 805.59,289.98 806.26,291.66 806.92,293.29 807.59,294.86 808.24,296.37 808.89,297.82 809.54,299.21 810.18,300.53 810.82,301.80 811.45,303.00 812.08,304.13 812.70,305.20 813.32,306.21 813.93,307.15 814.54,308.02 815.15,308.82 815.76,309.56 816.36,310.23 816.95,310.83 817.55,311.36 818.14,311.82 818.73,312.22 819.31,312.54 819.90,312.79 820.48,312.98 821.06,313.09 821.64,313.14 822.21,313.11 827.18,313.07 826.61,313.09 826.03,313.05 825.46,312.93 824.88,312.75 824.30,312.50 823.71,312.17 823.13,311.78 822.54,311.32 821.95,310.79 821.35,310.19 820.76,309.52 820.16,308.78 819.55,307.98 818.94,307.10 818.33,306.17 817.72,305.16 817.10,304.09 816.47,302.95 815.84,301.75 815.21,300.49 814.57,299.16 813.93,297.77 813.28,296.32 812.63,294.81 811.97,293.25 811.30,291.62 810.63,289.94 809.96,288.20 809.28,286.40 808.59,284.55 807.90,282.66 807.20,280.71 806.49,278.71 805.78,276.66 805.06,274.57 804.34,272.43 803.61,270.25 802.87,268.02 802.13,265.76 801.38,263.46 800.62,261.12 799.85,258.74 799.08,256.33 798.31,253.89 797.52,251.43 796.73,248.93 795.93,246.40 795.13,243.86 794.32,241.29 793.50,238.69 792.67,236.09 791.84,233.46 791.00,230.82 790.15,228.17 789.30,225.50 788.44,222.83 787.58,220.15 786.70,217.47 785.82,214.78 784.94,212.09 784.05,209.41 783.15,206.72 782.24,204.05 781.33,201.38 780.42,198.72 779.49,196.07 778.56,193.43 777.63,190.82 776.69,188.21 775.74,185.63 774.79,183.07 773.83,180.53 772.87,178.02 771.90,175.53 770.93,173.08 769.95,170.65 768.97,168.25 767.98,165.89 766.99,163.57 765.99,161.28 764.99,159.04 763.99,156.83 762.98,154.67 761.97,152.55 760.95,150.47 759.93,148.45 758.91,146.47 757.89,144.54 756.86,142.66 755.83,140.84 754.79,139.06 753.76,137.35 752.72,135.69 751.68,134.09 750.64,132.54 749.59,131.06 748.55,129.63 747.50,128.27 746.45,126.97 745.40,125.73 744.35,124.56 743.30,123.45 742.25,122.41 741.20,121.43 740.15,120.52 739.09,119.67 738.04,118.90 736.99,118.19 735.94,117.55 734.88,116.98 733.83,116.48 732.78,116.04 731.74,115.68 730.69,115.39 729.64,115.16 728.60,115.01 727.55,114.92 726.51,114.90 725.47,114.96" fill="url(#band)"/>
</g>
<rect x="720.5" y="116.5" width="4.8" height="68.4" fill="#c8769f"/>
 </g>
</defs>

<use href="#screw"/>
<use href="#screw" transform="translate(2,420)"/>
<use href="#screw" transform="translate(1573.1,8.74) scale(-0.992,0.992)"/>
<use href="#screw" transform="translate(1573.1,424.74) scale(-0.992,0.992)"/>
<g fill="#000">
<use href="#rot"/>
<use href="#rot" transform="translate(1451.5,0)"/>
<use href="#rot" transform="translate(-1.2,847.3) scale(1,-1)"/>
<use href="#rot" transform="translate(1445,847.3) scale(1,-1)"/>
</g>
<g font-family="Liberation Sans, sans-serif" fill="#000" stroke="#000" stroke-width="1.1" stroke-linejoin="miter">
<text x="197.8" y="72.5" font-size="55.5" textLength="470.7" lengthAdjust="spacingAndGlyphs">R.H. PITCH FLIGT</text>
<text x="935.8" y="72.5" font-size="55.5" textLength="463" lengthAdjust="spacingAndGlyphs">L.H. PITCH FLIGT</text>
<text x="393.5" y="371.9" font-size="56" textLength="118.6" lengthAdjust="spacingAndGlyphs">Flow</text>
<text x="1041.1" y="371.9" font-size="56" textLength="118.6" lengthAdjust="spacingAndGlyphs">Flow</text>
<text x="393.5" y="814.1" font-size="56" textLength="118.6" lengthAdjust="spacingAndGlyphs">Flow</text>
<text x="1059.1" y="814.1" font-size="56" textLength="118.6" lengthAdjust="spacingAndGlyphs">Flow</text>
</g>
<g fill="#111">
<rect x="330" y="390" width="236" height="7.4"/><polygon points="298,393.7 335,380.6 335,407"/>
<rect x="991" y="390" width="235" height="7.4"/><polygon points="1259,393.7 1221,380.3 1221,407"/>
<rect x="297" y="842.6" width="235" height="7.4"/><polygon points="565,846.3 527.4,833 527.4,859.6"/>
<rect x="1024" y="842.6" width="235.4" height="7.4"/><polygon points="991.6,846.3 1029,833 1029,859.6"/>
</g>
</svg>
</body></html>
